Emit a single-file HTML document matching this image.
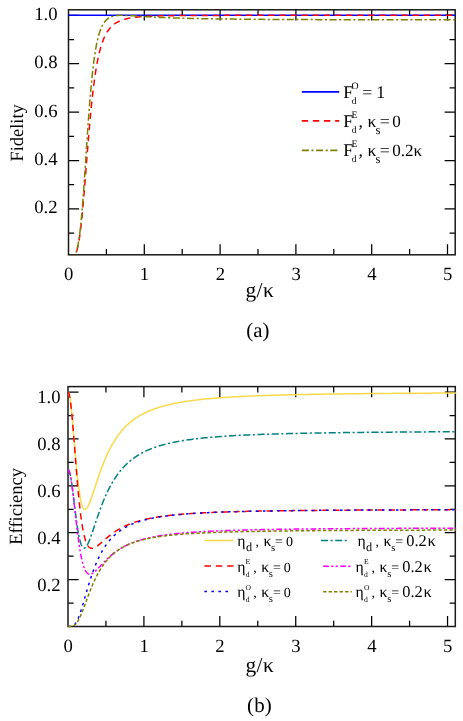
<!DOCTYPE html><html><head><meta charset="utf-8"><title>fig</title>
<style>html,body{margin:0;padding:0;background:#fff;overflow:hidden}svg{display:block}text{font-family:"Liberation Serif",serif;fill:#000;text-rendering:geometricPrecision}</style></head><body>
<svg width="463" height="721" viewBox="0 0 463 721">
<rect width="463" height="721" fill="#fff"/>
<defs>
<clipPath id="ct"><rect x="67.70" y="9.00" width="388.30" height="246.60"/></clipPath>
<clipPath id="cb"><rect x="67.20" y="385.80" width="388.90" height="241.50"/></clipPath>
</defs>
<path d="M106.40,254.80 v-5.80 M106.40,9.80 v5.80 M144.30,254.80 v-10.60 M144.30,9.80 v10.60 M182.20,254.80 v-5.80 M182.20,9.80 v5.80 M220.10,254.80 v-10.60 M220.10,9.80 v10.60 M258.00,254.80 v-5.80 M258.00,9.80 v5.80 M295.90,254.80 v-10.60 M295.90,9.80 v10.60 M333.80,254.80 v-5.80 M333.80,9.80 v5.80 M371.70,254.80 v-10.60 M371.70,9.80 v10.60 M409.60,254.80 v-5.80 M409.60,9.80 v5.80 M447.50,254.80 v-10.60 M447.50,9.80 v10.60 M68.50,233.10 h5.60 M455.20,233.10 h-5.60 M68.50,208.90 h10.60 M455.20,208.90 h-10.60 M68.50,184.70 h5.60 M455.20,184.70 h-5.60 M68.50,160.50 h10.60 M455.20,160.50 h-10.60 M68.50,136.30 h5.60 M455.20,136.30 h-5.60 M68.50,112.10 h10.60 M455.20,112.10 h-10.60 M68.50,87.90 h5.60 M455.20,87.90 h-5.60 M68.50,63.70 h10.60 M455.20,63.70 h-10.60 M68.50,39.50 h5.60 M455.20,39.50 h-5.60 M68.50,15.30 h10.60 M455.20,15.30 h-10.60" stroke="#000" stroke-width="1.25" fill="none"/>
<rect x="68.50" y="9.80" width="386.70" height="245.00" fill="none" stroke="#1a1a1a" stroke-width="1.50"/>
<g clip-path="url(#ct)" fill="none" stroke-width="1.50">
<path d="M68.50,15.30 H455.20" stroke="#0000ff" stroke-width="1.6"/>
<path d="M68.50,257.30 L68.80,257.30 L69.11,257.30 L69.41,257.30 L69.71,257.30 L70.02,257.29 L70.32,257.28 L70.62,257.27 L70.93,257.25 L71.23,257.22 L71.53,257.18 L71.84,257.12 L72.14,257.04 L72.44,256.95 L72.74,256.82 L73.05,256.67 L73.35,256.49 L73.65,256.27 L73.96,256.01 L74.26,255.70 L74.56,255.33 L74.87,254.91 L75.17,254.43 L75.47,253.88 L75.78,253.26 L76.08,252.55 L76.38,251.77 L76.69,250.89 L76.99,249.92 L77.29,248.84 L77.60,247.66 L77.90,246.37 L78.20,244.97 L78.51,243.45 L78.81,241.80 L79.11,240.03 L79.42,238.14 L79.72,236.11 L80.02,233.96 L80.32,231.67 L80.63,229.26 L80.93,226.71 L81.23,224.04 L81.54,221.25 L81.84,218.34 L82.14,215.31 L82.45,212.17 L82.75,208.92 L83.05,205.58 L83.36,202.15 L83.66,198.63 L83.96,195.04 L84.27,191.38 L84.57,187.67 L84.87,183.90 L85.18,180.09 L85.48,176.25 L85.78,172.40 L86.09,168.52 L86.39,164.65 L86.69,160.77 L87.00,156.91 L87.30,153.07 L87.60,149.26 L87.90,145.48 L88.21,141.74 L88.51,138.05 L88.81,134.41 L89.12,130.83 L89.42,127.31 L89.72,123.85 L90.03,120.47 L90.33,117.15 L90.63,113.91 L90.94,110.75 L91.24,107.67 L91.54,104.66 L91.85,101.73 L92.15,98.89 L92.45,96.12 L92.76,93.44 L93.06,90.83 L93.36,88.30 L93.67,85.86 L93.97,83.49 L94.27,81.19 L94.58,78.97 L94.88,76.83 L95.18,74.75 L95.48,72.75 L95.79,70.81 L96.09,68.95 L96.39,67.14 L96.70,65.40 L97.00,63.72 L97.30,62.11 L97.61,60.55 L97.91,59.04 L98.21,57.59 L98.52,56.19 L98.82,54.84 L99.12,53.54 L99.43,52.29 L99.73,51.09 L100.03,49.92 L100.34,48.80 L100.64,47.72 L100.94,46.68 L101.25,45.68 L101.55,44.71 L101.85,43.78 L102.16,42.89 L102.46,42.02 L102.76,41.19 L103.06,40.38 L103.37,39.61 L103.67,38.86 L103.97,38.14 L104.28,37.45 L104.58,36.78 L104.88,36.13 L105.19,35.51 L105.49,34.91 L105.79,34.33 L106.10,33.77 L106.40,33.23 L106.70,32.70 L107.01,32.20 L107.31,31.71 L107.61,31.24 L107.92,30.79 L108.22,30.35 L108.52,29.93 L108.83,29.52 L109.13,29.12 L109.43,28.74 L109.74,28.37 L110.04,28.01 L110.34,27.67 L110.64,27.33 L110.95,27.01 L111.25,26.70 L111.55,26.39 L111.86,26.10 L112.16,25.81 L112.46,25.54 L112.77,25.27 L113.07,25.02 L113.37,24.77 L113.68,24.52 L113.98,24.29 L114.28,24.06 L114.59,23.84 L114.89,23.63 L115.19,23.42 L115.50,23.22 L115.80,23.03 L116.10,22.84 L116.41,22.65 L116.71,22.48 L117.01,22.30 L117.32,22.14 L117.62,21.97 L117.92,21.82 L118.22,21.66 L118.53,21.51 L118.83,21.37 L119.13,21.23 L119.44,21.09 L119.74,20.96 L120.04,20.83 L120.35,20.70 L120.65,20.58 L120.95,20.46 L121.26,20.35 L121.56,20.24 L121.86,20.13 L122.17,20.02 L122.47,19.92 L122.77,19.82 L123.08,19.72 L123.38,19.63 L123.68,19.53 L123.99,19.44 L124.29,19.35 L124.59,19.27 L124.90,19.19 L125.20,19.10 L125.50,19.03 L125.80,18.95 L126.11,18.87 L126.41,18.80 L126.71,18.73 L127.02,18.66 L127.32,18.59 L127.62,18.53 L127.93,18.46 L128.23,18.40 L128.53,18.34 L128.84,18.28 L129.14,18.22 L129.44,18.16 L129.75,18.11 L130.05,18.05 L130.35,18.00 L130.66,17.95 L130.96,17.90 L131.26,17.85 L131.57,17.80 L131.87,17.75 L132.17,17.71 L132.48,17.66 L132.78,17.62 L133.08,17.57 L133.38,17.53 L133.69,17.49 L133.99,17.45 L134.29,17.41 L134.60,17.37 L134.90,17.34 L135.20,17.30 L135.51,17.27 L135.81,17.23 L136.11,17.20 L136.42,17.16 L136.72,17.13 L137.02,17.10 L137.33,17.07 L137.63,17.04 L137.93,17.01 L138.24,16.98 L138.54,16.95 L138.84,16.92 L139.15,16.89 L139.45,16.87 L139.75,16.84 L140.06,16.81 L140.36,16.79 L140.66,16.76 L140.96,16.74 L141.27,16.72 L141.57,16.69 L141.87,16.67 L142.18,16.65 L142.48,16.63 L142.78,16.60 L143.09,16.58 L143.39,16.56 L143.69,16.54 L144.00,16.52 L144.30,16.50 L144.60,16.49 L144.91,16.47 L145.21,16.45 L145.51,16.43 L145.82,16.41 L146.12,16.40 L146.42,16.38 L146.73,16.36 L147.03,16.35 L147.33,16.33 L147.64,16.31 L147.94,16.30 L148.24,16.28 L148.54,16.27 L148.85,16.25 L149.15,16.24 L149.45,16.23 L149.76,16.21 L150.06,16.20 L150.36,16.19 L150.67,16.17 L150.97,16.16 L151.27,16.15 L151.58,16.14 L151.88,16.12 L152.18,16.11 L152.49,16.10 L152.79,16.09 L153.09,16.08 L153.40,16.07 L153.70,16.06 L154.00,16.05 L154.31,16.03 L154.61,16.02 L154.91,16.01 L155.22,16.00 L155.52,15.99 L155.82,15.99 L156.12,15.98 L156.43,15.97 L156.73,15.96 L157.03,15.95 L157.34,15.94 L157.64,15.93 L157.94,15.92 L158.25,15.91 L158.55,15.91 L158.85,15.90 L159.16,15.89 L159.46,15.88 L159.76,15.87 L160.07,15.87 L160.37,15.86 L160.67,15.85 L160.98,15.84 L161.28,15.84 L161.58,15.83 L161.89,15.82 L162.19,15.82 L162.49,15.81 L162.80,15.80 L163.10,15.80 L163.40,15.79 L163.70,15.79 L164.01,15.78 L164.31,15.77 L164.61,15.77 L164.92,15.76 L165.22,15.76 L165.52,15.75 L165.83,15.74 L166.13,15.74 L166.43,15.73 L166.74,15.73 L167.04,15.72 L167.34,15.72 L167.65,15.71 L167.95,15.71 L168.25,15.70 L168.56,15.70 L168.86,15.69 L169.16,15.69 L169.47,15.68 L169.77,15.68 L170.07,15.67 L170.38,15.67 L170.68,15.67 L170.98,15.66 L171.28,15.66 L171.59,15.65 L171.89,15.65 L172.19,15.65 L172.50,15.64 L172.80,15.64 L173.10,15.63 L173.41,15.63 L173.71,15.63 L174.01,15.62 L174.32,15.62 L174.62,15.61 L174.92,15.61 L175.23,15.61 L175.53,15.60 L175.83,15.60 L176.14,15.60 L176.44,15.59 L176.74,15.59 L177.05,15.59 L177.35,15.58 L177.65,15.58 L177.96,15.58 L178.26,15.57 L178.56,15.57 L178.86,15.57 L179.17,15.57 L179.47,15.56 L179.77,15.56 L180.08,15.56 L180.38,15.55 L180.68,15.55 L180.99,15.55 L181.29,15.55 L181.59,15.54 L181.90,15.54 L182.20,15.54 L183.72,15.53 L185.23,15.51 L186.75,15.50 L188.26,15.49 L189.78,15.48 L191.30,15.48 L192.81,15.47 L194.33,15.46 L195.84,15.45 L197.36,15.44 L198.88,15.44 L200.39,15.43 L201.91,15.43 L203.42,15.42 L204.94,15.42 L206.46,15.41 L207.97,15.41 L209.49,15.40 L211.00,15.40 L212.52,15.39 L214.04,15.39 L215.55,15.39 L217.07,15.38 L218.58,15.38 L220.10,15.38 L221.62,15.37 L223.13,15.37 L224.65,15.37 L226.16,15.36 L227.68,15.36 L229.20,15.36 L230.71,15.36 L232.23,15.36 L233.74,15.35 L235.26,15.35 L236.78,15.35 L238.29,15.35 L239.81,15.35 L241.32,15.34 L242.84,15.34 L244.36,15.34 L245.87,15.34 L247.39,15.34 L248.90,15.34 L250.42,15.34 L251.94,15.34 L253.45,15.33 L254.97,15.33 L256.48,15.33 L258.00,15.33 L259.52,15.33 L261.03,15.33 L262.55,15.33 L264.06,15.33 L265.58,15.33 L267.10,15.33 L268.61,15.32 L270.13,15.32 L271.64,15.32 L273.16,15.32 L274.68,15.32 L276.19,15.32 L277.71,15.32 L279.22,15.32 L280.74,15.32 L282.26,15.32 L283.77,15.32 L285.29,15.32 L286.80,15.32 L288.32,15.32 L289.84,15.32 L291.35,15.32 L292.87,15.32 L294.38,15.32 L295.90,15.31 L297.42,15.31 L298.93,15.31 L300.45,15.31 L301.96,15.31 L303.48,15.31 L305.00,15.31 L306.51,15.31 L308.03,15.31 L309.54,15.31 L311.06,15.31 L312.58,15.31 L314.09,15.31 L315.61,15.31 L317.12,15.31 L318.64,15.31 L320.16,15.31 L321.67,15.31 L323.19,15.31 L324.70,15.31 L326.22,15.31 L327.74,15.31 L329.25,15.31 L330.77,15.31 L332.28,15.31 L333.80,15.31 L335.32,15.31 L336.83,15.31 L338.35,15.31 L339.86,15.31 L341.38,15.31 L342.90,15.31 L344.41,15.31 L345.93,15.31 L347.44,15.31 L348.96,15.31 L350.48,15.31 L351.99,15.31 L353.51,15.31 L355.02,15.31 L356.54,15.31 L358.06,15.31 L359.57,15.31 L361.09,15.31 L362.60,15.31 L364.12,15.31 L365.64,15.31 L367.15,15.31 L368.67,15.30 L370.18,15.30 L371.70,15.30 L373.22,15.30 L374.73,15.30 L376.25,15.30 L377.76,15.30 L379.28,15.30 L380.80,15.30 L382.31,15.30 L383.83,15.30 L385.34,15.30 L386.86,15.30 L388.38,15.30 L389.89,15.30 L391.41,15.30 L392.92,15.30 L394.44,15.30 L395.96,15.30 L397.47,15.30 L398.99,15.30 L400.50,15.30 L402.02,15.30 L403.54,15.30 L405.05,15.30 L406.57,15.30 L408.08,15.30 L409.60,15.30 L411.12,15.30 L412.63,15.30 L414.15,15.30 L415.66,15.30 L417.18,15.30 L418.70,15.30 L420.21,15.30 L421.73,15.30 L423.24,15.30 L424.76,15.30 L426.28,15.30 L427.79,15.30 L429.31,15.30 L430.82,15.30 L432.34,15.30 L433.86,15.30 L435.37,15.30 L436.89,15.30 L438.40,15.30 L439.92,15.30 L441.44,15.30 L442.95,15.30 L444.47,15.30 L445.98,15.30 L447.50,15.30 L449.02,15.30 L450.53,15.30 L452.05,15.30 L453.56,15.30 L455.08,15.30 L456.60,15.30 L458.11,15.30 L459.63,15.30 L461.14,15.30 L462.66,15.30" stroke="#ff0000" stroke-dasharray="6.3 4.8"/>
<path d="M68.50,257.30 L68.80,257.30 L69.11,257.30 L69.41,257.30 L69.71,257.30 L70.02,257.29 L70.32,257.28 L70.62,257.27 L70.93,257.25 L71.23,257.22 L71.53,257.17 L71.84,257.11 L72.14,257.04 L72.44,256.94 L72.74,256.81 L73.05,256.65 L73.35,256.46 L73.65,256.23 L73.96,255.95 L74.26,255.63 L74.56,255.24 L74.87,254.80 L75.17,254.28 L75.47,253.69 L75.78,253.02 L76.08,252.26 L76.38,251.41 L76.69,250.45 L76.99,249.39 L77.29,248.21 L77.60,246.90 L77.90,245.47 L78.20,243.91 L78.51,242.20 L78.81,240.35 L79.11,238.34 L79.42,236.19 L79.72,233.87 L80.02,231.40 L80.32,228.77 L80.63,225.97 L80.93,223.01 L81.23,219.90 L81.54,216.63 L81.84,213.20 L82.14,209.63 L82.45,205.93 L82.75,202.08 L83.05,198.12 L83.36,194.04 L83.66,189.85 L83.96,185.57 L84.27,181.21 L84.57,176.78 L84.87,172.29 L85.18,167.76 L85.48,163.20 L85.78,158.63 L86.09,154.04 L86.39,149.47 L86.69,144.91 L87.00,140.39 L87.30,135.91 L87.60,131.48 L87.90,127.11 L88.21,122.82 L88.51,118.60 L88.81,114.47 L89.12,110.43 L89.42,106.48 L89.72,102.64 L90.03,98.90 L90.33,95.28 L90.63,91.76 L90.94,88.35 L91.24,85.06 L91.54,81.88 L91.85,78.81 L92.15,75.86 L92.45,73.01 L92.76,70.28 L93.06,67.66 L93.36,65.14 L93.67,62.72 L93.97,60.41 L94.27,58.19 L94.58,56.07 L94.88,54.05 L95.18,52.11 L95.48,50.26 L95.79,48.50 L96.09,46.81 L96.39,45.21 L96.70,43.67 L97.00,42.21 L97.30,40.82 L97.61,39.50 L97.91,38.24 L98.21,37.04 L98.52,35.89 L98.82,34.81 L99.12,33.77 L99.43,32.79 L99.73,31.86 L100.03,30.97 L100.34,30.12 L100.64,29.32 L100.94,28.56 L101.25,27.83 L101.55,27.14 L101.85,26.49 L102.16,25.87 L102.46,25.28 L102.76,24.72 L103.06,24.19 L103.37,23.68 L103.67,23.20 L103.97,22.75 L104.28,22.32 L104.58,21.91 L104.88,21.52 L105.19,21.15 L105.49,20.80 L105.79,20.47 L106.10,20.16 L106.40,19.86 L106.70,19.58 L107.01,19.31 L107.31,19.06 L107.61,18.82 L107.92,18.59 L108.22,18.38 L108.52,18.18 L108.83,17.98 L109.13,17.80 L109.43,17.63 L109.74,17.47 L110.04,17.32 L110.34,17.17 L110.64,17.04 L110.95,16.91 L111.25,16.79 L111.55,16.67 L111.86,16.57 L112.16,16.47 L112.46,16.37 L112.77,16.28 L113.07,16.20 L113.37,16.12 L113.68,16.05 L113.98,15.98 L114.28,15.91 L114.59,15.86 L114.89,15.80 L115.19,15.75 L115.50,15.70 L115.80,15.66 L116.10,15.61 L116.41,15.58 L116.71,15.54 L117.01,15.51 L117.32,15.48 L117.62,15.45 L117.92,15.43 L118.22,15.41 L118.53,15.39 L118.83,15.37 L119.13,15.36 L119.44,15.34 L119.74,15.33 L120.04,15.32 L120.35,15.32 L120.65,15.31 L120.95,15.31 L121.26,15.30 L121.56,15.30 L121.86,15.30 L122.17,15.30 L122.47,15.30 L122.77,15.31 L123.08,15.31 L123.38,15.31 L123.68,15.32 L123.99,15.33 L124.29,15.34 L124.59,15.34 L124.90,15.35 L125.20,15.36 L125.50,15.38 L125.80,15.39 L126.11,15.40 L126.41,15.41 L126.71,15.43 L127.02,15.44 L127.32,15.45 L127.62,15.47 L127.93,15.48 L128.23,15.50 L128.53,15.52 L128.84,15.53 L129.14,15.55 L129.44,15.57 L129.75,15.58 L130.05,15.60 L130.35,15.62 L130.66,15.64 L130.96,15.65 L131.26,15.67 L131.57,15.69 L131.87,15.71 L132.17,15.73 L132.48,15.75 L132.78,15.77 L133.08,15.79 L133.38,15.81 L133.69,15.83 L133.99,15.85 L134.29,15.87 L134.60,15.89 L134.90,15.91 L135.20,15.93 L135.51,15.95 L135.81,15.97 L136.11,15.99 L136.42,16.01 L136.72,16.03 L137.02,16.05 L137.33,16.07 L137.63,16.09 L137.93,16.11 L138.24,16.13 L138.54,16.15 L138.84,16.17 L139.15,16.19 L139.45,16.21 L139.75,16.23 L140.06,16.25 L140.36,16.27 L140.66,16.29 L140.96,16.31 L141.27,16.33 L141.57,16.35 L141.87,16.37 L142.18,16.39 L142.48,16.41 L142.78,16.43 L143.09,16.45 L143.39,16.47 L143.69,16.49 L144.00,16.51 L144.30,16.53 L144.60,16.55 L144.91,16.57 L145.21,16.59 L145.51,16.60 L145.82,16.62 L146.12,16.64 L146.42,16.66 L146.73,16.68 L147.03,16.70 L147.33,16.72 L147.64,16.73 L147.94,16.75 L148.24,16.77 L148.54,16.79 L148.85,16.81 L149.15,16.82 L149.45,16.84 L149.76,16.86 L150.06,16.88 L150.36,16.89 L150.67,16.91 L150.97,16.93 L151.27,16.94 L151.58,16.96 L151.88,16.98 L152.18,17.00 L152.49,17.01 L152.79,17.03 L153.09,17.04 L153.40,17.06 L153.70,17.08 L154.00,17.09 L154.31,17.11 L154.61,17.13 L154.91,17.14 L155.22,17.16 L155.52,17.17 L155.82,17.19 L156.12,17.20 L156.43,17.22 L156.73,17.23 L157.03,17.25 L157.34,17.26 L157.64,17.28 L157.94,17.29 L158.25,17.31 L158.55,17.32 L158.85,17.34 L159.16,17.35 L159.46,17.37 L159.76,17.38 L160.07,17.40 L160.37,17.41 L160.67,17.42 L160.98,17.44 L161.28,17.45 L161.58,17.46 L161.89,17.48 L162.19,17.49 L162.49,17.51 L162.80,17.52 L163.10,17.53 L163.40,17.54 L163.70,17.56 L164.01,17.57 L164.31,17.58 L164.61,17.60 L164.92,17.61 L165.22,17.62 L165.52,17.63 L165.83,17.65 L166.13,17.66 L166.43,17.67 L166.74,17.68 L167.04,17.70 L167.34,17.71 L167.65,17.72 L167.95,17.73 L168.25,17.74 L168.56,17.76 L168.86,17.77 L169.16,17.78 L169.47,17.79 L169.77,17.80 L170.07,17.81 L170.38,17.82 L170.68,17.84 L170.98,17.85 L171.28,17.86 L171.59,17.87 L171.89,17.88 L172.19,17.89 L172.50,17.90 L172.80,17.91 L173.10,17.92 L173.41,17.93 L173.71,17.94 L174.01,17.95 L174.32,17.96 L174.62,17.97 L174.92,17.98 L175.23,17.99 L175.53,18.00 L175.83,18.01 L176.14,18.02 L176.44,18.03 L176.74,18.04 L177.05,18.05 L177.35,18.06 L177.65,18.07 L177.96,18.08 L178.26,18.09 L178.56,18.10 L178.86,18.11 L179.17,18.12 L179.47,18.13 L179.77,18.14 L180.08,18.15 L180.38,18.16 L180.68,18.17 L180.99,18.17 L181.29,18.18 L181.59,18.19 L181.90,18.20 L182.20,18.21 L183.72,18.25 L185.23,18.29 L186.75,18.33 L188.26,18.37 L189.78,18.41 L191.30,18.44 L192.81,18.48 L194.33,18.51 L195.84,18.55 L197.36,18.58 L198.88,18.61 L200.39,18.64 L201.91,18.67 L203.42,18.70 L204.94,18.72 L206.46,18.75 L207.97,18.78 L209.49,18.80 L211.00,18.83 L212.52,18.85 L214.04,18.87 L215.55,18.90 L217.07,18.92 L218.58,18.94 L220.10,18.96 L221.62,18.98 L223.13,19.00 L224.65,19.02 L226.16,19.04 L227.68,19.06 L229.20,19.07 L230.71,19.09 L232.23,19.11 L233.74,19.12 L235.26,19.14 L236.78,19.15 L238.29,19.17 L239.81,19.18 L241.32,19.20 L242.84,19.21 L244.36,19.23 L245.87,19.24 L247.39,19.25 L248.90,19.27 L250.42,19.28 L251.94,19.29 L253.45,19.30 L254.97,19.31 L256.48,19.32 L258.00,19.34 L259.52,19.35 L261.03,19.36 L262.55,19.37 L264.06,19.38 L265.58,19.39 L267.10,19.40 L268.61,19.41 L270.13,19.42 L271.64,19.42 L273.16,19.43 L274.68,19.44 L276.19,19.45 L277.71,19.46 L279.22,19.47 L280.74,19.47 L282.26,19.48 L283.77,19.49 L285.29,19.50 L286.80,19.51 L288.32,19.51 L289.84,19.52 L291.35,19.53 L292.87,19.53 L294.38,19.54 L295.90,19.55 L297.42,19.55 L298.93,19.56 L300.45,19.57 L301.96,19.57 L303.48,19.58 L305.00,19.58 L306.51,19.59 L308.03,19.59 L309.54,19.60 L311.06,19.61 L312.58,19.61 L314.09,19.62 L315.61,19.62 L317.12,19.63 L318.64,19.63 L320.16,19.64 L321.67,19.64 L323.19,19.65 L324.70,19.65 L326.22,19.65 L327.74,19.66 L329.25,19.66 L330.77,19.67 L332.28,19.67 L333.80,19.68 L335.32,19.68 L336.83,19.68 L338.35,19.69 L339.86,19.69 L341.38,19.70 L342.90,19.70 L344.41,19.70 L345.93,19.71 L347.44,19.71 L348.96,19.71 L350.48,19.72 L351.99,19.72 L353.51,19.72 L355.02,19.73 L356.54,19.73 L358.06,19.73 L359.57,19.74 L361.09,19.74 L362.60,19.74 L364.12,19.75 L365.64,19.75 L367.15,19.75 L368.67,19.76 L370.18,19.76 L371.70,19.76 L373.22,19.76 L374.73,19.77 L376.25,19.77 L377.76,19.77 L379.28,19.77 L380.80,19.78 L382.31,19.78 L383.83,19.78 L385.34,19.78 L386.86,19.79 L388.38,19.79 L389.89,19.79 L391.41,19.79 L392.92,19.80 L394.44,19.80 L395.96,19.80 L397.47,19.80 L398.99,19.81 L400.50,19.81 L402.02,19.81 L403.54,19.81 L405.05,19.81 L406.57,19.82 L408.08,19.82 L409.60,19.82 L411.12,19.82 L412.63,19.82 L414.15,19.83 L415.66,19.83 L417.18,19.83 L418.70,19.83 L420.21,19.83 L421.73,19.84 L423.24,19.84 L424.76,19.84 L426.28,19.84 L427.79,19.84 L429.31,19.84 L430.82,19.85 L432.34,19.85 L433.86,19.85 L435.37,19.85 L436.89,19.85 L438.40,19.85 L439.92,19.86 L441.44,19.86 L442.95,19.86 L444.47,19.86 L445.98,19.86 L447.50,19.86 L449.02,19.86 L450.53,19.87 L452.05,19.87 L453.56,19.87 L455.08,19.87 L456.60,19.87 L458.11,19.87 L459.63,19.87 L461.14,19.87 L462.66,19.88" stroke="#808000" stroke-dasharray="7.1 2.5 2.1 2.55"/>
</g>
<path d="M105.95,626.50 v-5.80 M105.95,386.60 v5.80 M143.91,626.50 v-10.60 M143.91,386.60 v10.60 M181.87,626.50 v-5.80 M181.87,386.60 v5.80 M219.82,626.50 v-10.60 M219.82,386.60 v10.60 M257.77,626.50 v-5.80 M257.77,386.60 v5.80 M295.73,626.50 v-10.60 M295.73,386.60 v10.60 M333.69,626.50 v-5.80 M333.69,386.60 v5.80 M371.64,626.50 v-10.60 M371.64,386.60 v10.60 M409.59,626.50 v-5.80 M409.59,386.60 v5.80 M447.55,626.50 v-10.60 M447.55,386.60 v10.60 M68.00,603.06 h5.60 M455.30,603.06 h-5.60 M68.00,579.62 h10.60 M455.30,579.62 h-10.60 M68.00,556.18 h5.60 M455.30,556.18 h-5.60 M68.00,532.74 h10.60 M455.30,532.74 h-10.60 M68.00,509.30 h5.60 M455.30,509.30 h-5.60 M68.00,485.86 h10.60 M455.30,485.86 h-10.60 M68.00,462.42 h5.60 M455.30,462.42 h-5.60 M68.00,438.98 h10.60 M455.30,438.98 h-10.60 M68.00,415.54 h5.60 M455.30,415.54 h-5.60 M68.00,392.10 h10.60 M455.30,392.10 h-10.60" stroke="#000" stroke-width="1.25" fill="none"/>
<rect x="68.00" y="386.60" width="387.30" height="239.90" fill="none" stroke="#1a1a1a" stroke-width="1.50"/>
<g clip-path="url(#cb)" fill="none" stroke-width="1.50">
<path d="M68.00,392.10 L68.30,392.25 L68.61,392.70 L68.91,393.44 L69.21,394.48 L69.52,395.79 L69.82,397.38 L70.13,399.23 L70.43,401.32 L70.73,403.65 L71.04,406.19 L71.34,408.92 L71.64,411.84 L71.95,414.92 L72.25,418.13 L72.55,421.47 L72.86,424.91 L73.16,428.43 L73.47,432.00 L73.77,435.62 L74.07,439.26 L74.38,442.91 L74.68,446.54 L74.98,450.14 L75.29,453.71 L75.59,457.21 L75.89,460.65 L76.20,464.00 L76.50,467.27 L76.81,470.43 L77.11,473.49 L77.41,476.43 L77.72,479.25 L78.02,481.94 L78.32,484.51 L78.63,486.94 L78.93,489.24 L79.23,491.41 L79.54,493.44 L79.84,495.33 L80.15,497.09 L80.45,498.72 L80.75,500.22 L81.06,501.59 L81.36,502.83 L81.66,503.95 L81.97,504.96 L82.27,505.84 L82.57,506.62 L82.88,507.29 L83.18,507.85 L83.49,508.32 L83.79,508.69 L84.09,508.97 L84.40,509.16 L84.70,509.27 L85.00,509.30 L85.31,509.26 L85.61,509.14 L85.91,508.96 L86.22,508.72 L86.52,508.41 L86.83,508.05 L87.13,507.64 L87.43,507.18 L87.74,506.67 L88.04,506.13 L88.34,505.54 L88.65,504.91 L88.95,504.26 L89.25,503.57 L89.56,502.85 L89.86,502.10 L90.17,501.33 L90.47,500.54 L90.77,499.73 L91.08,498.90 L91.38,498.06 L91.68,497.20 L91.99,496.33 L92.29,495.44 L92.59,494.55 L92.90,493.65 L93.20,492.74 L93.51,491.83 L93.81,490.91 L94.11,489.99 L94.42,489.06 L94.72,488.13 L95.02,487.21 L95.33,486.28 L95.63,485.35 L95.93,484.43 L96.24,483.50 L96.54,482.58 L96.85,481.66 L97.15,480.75 L97.45,479.84 L97.76,478.94 L98.06,478.04 L98.36,477.14 L98.67,476.26 L98.97,475.37 L99.27,474.50 L99.58,473.63 L99.88,472.77 L100.19,471.91 L100.49,471.07 L100.79,470.23 L101.10,469.40 L101.40,468.57 L101.70,467.76 L102.01,466.95 L102.31,466.15 L102.61,465.36 L102.92,464.58 L103.22,463.80 L103.53,463.04 L103.83,462.28 L104.13,461.53 L104.44,460.79 L104.74,460.06 L105.04,459.33 L105.35,458.62 L105.65,457.91 L105.95,457.21 L106.26,456.52 L106.56,455.84 L106.87,455.16 L107.17,454.50 L107.47,453.84 L107.78,453.19 L108.08,452.55 L108.38,451.92 L108.69,451.29 L108.99,450.67 L109.30,450.06 L109.60,449.46 L109.90,448.87 L110.21,448.28 L110.51,447.70 L110.81,447.13 L111.12,446.56 L111.42,446.01 L111.72,445.46 L112.03,444.91 L112.33,444.38 L112.64,443.85 L112.94,443.32 L113.24,442.81 L113.55,442.30 L113.85,441.80 L114.15,441.30 L114.46,440.81 L114.76,440.33 L115.06,439.85 L115.37,439.38 L115.67,438.91 L115.98,438.45 L116.28,438.00 L116.58,437.55 L116.89,437.11 L117.19,436.67 L117.49,436.24 L117.80,435.82 L118.10,435.40 L118.40,434.99 L118.71,434.58 L119.01,434.17 L119.32,433.78 L119.62,433.38 L119.92,432.99 L120.23,432.61 L120.53,432.23 L120.83,431.86 L121.14,431.49 L121.44,431.12 L121.74,430.76 L122.05,430.41 L122.35,430.06 L122.66,429.71 L122.96,429.37 L123.26,429.03 L123.57,428.70 L123.87,428.37 L124.17,428.04 L124.48,427.72 L124.78,427.40 L125.08,427.09 L125.39,426.78 L125.69,426.47 L126.00,426.17 L126.30,425.87 L126.60,425.58 L126.91,425.29 L127.21,425.00 L127.51,424.71 L127.82,424.43 L128.12,424.15 L128.42,423.88 L128.73,423.61 L129.03,423.34 L129.34,423.08 L129.64,422.82 L129.94,422.56 L130.25,422.30 L130.55,422.05 L130.85,421.80 L131.16,421.55 L131.46,421.31 L131.76,421.07 L132.07,420.83 L132.37,420.60 L132.68,420.36 L132.98,420.13 L133.28,419.91 L133.59,419.68 L133.89,419.46 L134.19,419.24 L134.50,419.02 L134.80,418.81 L135.10,418.60 L135.41,418.39 L135.71,418.18 L136.02,417.97 L136.32,417.77 L136.62,417.57 L136.93,417.37 L137.23,417.18 L137.53,416.98 L137.84,416.79 L138.14,416.60 L138.44,416.41 L138.75,416.23 L139.05,416.04 L139.36,415.86 L139.66,415.68 L139.96,415.51 L140.27,415.33 L140.57,415.16 L140.87,414.98 L141.18,414.81 L141.48,414.65 L141.78,414.48 L142.09,414.31 L142.39,414.15 L142.70,413.99 L143.00,413.83 L143.30,413.67 L143.61,413.52 L143.91,413.36 L144.21,413.21 L144.52,413.06 L144.82,412.91 L145.12,412.76 L145.43,412.61 L145.73,412.47 L146.04,412.32 L146.34,412.18 L146.64,412.04 L146.95,411.90 L147.25,411.76 L147.55,411.62 L147.86,411.49 L148.16,411.35 L148.46,411.22 L148.77,411.09 L149.07,410.96 L149.38,410.83 L149.68,410.70 L149.98,410.58 L150.29,410.45 L150.59,410.33 L150.89,410.21 L151.20,410.09 L151.50,409.96 L151.80,409.85 L152.11,409.73 L152.41,409.61 L152.72,409.50 L153.02,409.38 L153.32,409.27 L153.63,409.16 L153.93,409.04 L154.23,408.93 L154.54,408.82 L154.84,408.72 L155.14,408.61 L155.45,408.50 L155.75,408.40 L156.06,408.29 L156.36,408.19 L156.66,408.09 L156.97,407.99 L157.27,407.89 L157.57,407.79 L157.88,407.69 L158.18,407.59 L158.48,407.49 L158.79,407.40 L159.09,407.30 L159.40,407.21 L159.70,407.12 L160.00,407.02 L160.31,406.93 L160.61,406.84 L160.91,406.75 L161.22,406.66 L161.52,406.57 L161.82,406.49 L162.13,406.40 L162.43,406.31 L162.74,406.23 L163.04,406.14 L163.34,406.06 L163.65,405.98 L163.95,405.89 L164.25,405.81 L164.56,405.73 L164.86,405.65 L165.16,405.57 L165.47,405.49 L165.77,405.41 L166.08,405.34 L166.38,405.26 L166.68,405.18 L166.99,405.11 L167.29,405.03 L167.59,404.96 L167.90,404.89 L168.20,404.81 L168.50,404.74 L168.81,404.67 L169.11,404.60 L169.42,404.53 L169.72,404.46 L170.02,404.39 L170.33,404.32 L170.63,404.25 L170.93,404.18 L171.24,404.11 L171.54,404.05 L171.84,403.98 L172.15,403.92 L172.45,403.85 L172.76,403.79 L173.06,403.72 L173.36,403.66 L173.67,403.60 L173.97,403.53 L174.27,403.47 L174.58,403.41 L174.88,403.35 L175.18,403.29 L175.49,403.23 L175.79,403.17 L176.10,403.11 L176.40,403.05 L176.70,402.99 L177.01,402.94 L177.31,402.88 L177.61,402.82 L177.92,402.76 L178.22,402.71 L178.52,402.65 L178.83,402.60 L179.13,402.54 L179.44,402.49 L179.74,402.44 L180.04,402.38 L180.35,402.33 L180.65,402.28 L180.95,402.22 L181.26,402.17 L181.56,402.12 L181.87,402.07 L183.38,401.82 L184.90,401.58 L186.42,401.35 L187.94,401.12 L189.46,400.91 L190.97,400.70 L192.49,400.50 L194.01,400.31 L195.53,400.12 L197.05,399.94 L198.57,399.76 L200.08,399.59 L201.60,399.43 L203.12,399.27 L204.64,399.12 L206.16,398.97 L207.67,398.82 L209.19,398.68 L210.71,398.55 L212.23,398.42 L213.75,398.29 L215.27,398.17 L216.78,398.05 L218.30,397.93 L219.82,397.82 L221.34,397.71 L222.86,397.60 L224.37,397.50 L225.89,397.39 L227.41,397.30 L228.93,397.20 L230.45,397.11 L231.97,397.02 L233.48,396.93 L235.00,396.84 L236.52,396.76 L238.04,396.68 L239.56,396.60 L241.07,396.52 L242.59,396.45 L244.11,396.38 L245.63,396.30 L247.15,396.23 L248.67,396.17 L250.18,396.10 L251.70,396.03 L253.22,395.97 L254.74,395.91 L256.26,395.85 L257.77,395.79 L259.29,395.73 L260.81,395.68 L262.33,395.62 L263.85,395.57 L265.37,395.52 L266.88,395.47 L268.40,395.42 L269.92,395.37 L271.44,395.32 L272.96,395.27 L274.48,395.23 L275.99,395.18 L277.51,395.14 L279.03,395.09 L280.55,395.05 L282.07,395.01 L283.58,394.97 L285.10,394.93 L286.62,394.89 L288.14,394.85 L289.66,394.82 L291.18,394.78 L292.69,394.75 L294.21,394.71 L295.73,394.68 L297.25,394.64 L298.77,394.61 L300.28,394.58 L301.80,394.55 L303.32,394.51 L304.84,394.48 L306.36,394.45 L307.88,394.42 L309.39,394.40 L310.91,394.37 L312.43,394.34 L313.95,394.31 L315.47,394.28 L316.98,394.26 L318.50,394.23 L320.02,394.21 L321.54,394.18 L323.06,394.16 L324.58,394.13 L326.09,394.11 L327.61,394.09 L329.13,394.06 L330.65,394.04 L332.17,394.02 L333.69,394.00 L335.20,393.98 L336.72,393.96 L338.24,393.94 L339.76,393.91 L341.28,393.89 L342.79,393.88 L344.31,393.86 L345.83,393.84 L347.35,393.82 L348.87,393.80 L350.39,393.78 L351.90,393.76 L353.42,393.75 L354.94,393.73 L356.46,393.71 L357.98,393.70 L359.49,393.68 L361.01,393.66 L362.53,393.65 L364.05,393.63 L365.57,393.62 L367.09,393.60 L368.60,393.59 L370.12,393.57 L371.64,393.56 L373.16,393.54 L374.68,393.53 L376.19,393.51 L377.71,393.50 L379.23,393.49 L380.75,393.47 L382.27,393.46 L383.79,393.45 L385.30,393.43 L386.82,393.42 L388.34,393.41 L389.86,393.40 L391.38,393.38 L392.89,393.37 L394.41,393.36 L395.93,393.35 L397.45,393.34 L398.97,393.33 L400.49,393.32 L402.00,393.30 L403.52,393.29 L405.04,393.28 L406.56,393.27 L408.08,393.26 L409.59,393.25 L411.11,393.24 L412.63,393.23 L414.15,393.22 L415.67,393.21 L417.19,393.20 L418.70,393.19 L420.22,393.18 L421.74,393.17 L423.26,393.17 L424.78,393.16 L426.30,393.15 L427.81,393.14 L429.33,393.13 L430.85,393.12 L432.37,393.11 L433.89,393.10 L435.40,393.10 L436.92,393.09 L438.44,393.08 L439.96,393.07 L441.48,393.06 L443.00,393.06 L444.51,393.05 L446.03,393.04 L447.55,393.03 L449.07,393.03 L450.59,393.02 L452.10,393.01 L453.62,393.00 L455.14,393.00 L456.66,392.99 L458.18,392.98 L459.70,392.98 L461.21,392.97 L462.73,392.96" stroke="#f9d94a" stroke-width="1.5"/>
<path d="M68.00,469.59 L68.30,469.69 L68.61,469.99 L68.91,470.50 L69.21,471.19 L69.52,472.09 L69.82,473.16 L70.13,474.41 L70.43,475.83 L70.73,477.41 L71.04,479.14 L71.34,481.00 L71.64,482.98 L71.95,485.08 L72.25,487.27 L72.55,489.55 L72.86,491.89 L73.16,494.30 L73.47,496.75 L73.77,499.23 L74.07,501.72 L74.38,504.23 L74.68,506.72 L74.98,509.20 L75.29,511.65 L75.59,514.06 L75.89,516.43 L76.20,518.74 L76.50,520.98 L76.81,523.16 L77.11,525.26 L77.41,527.28 L77.72,529.21 L78.02,531.05 L78.32,532.80 L78.63,534.46 L78.93,536.01 L79.23,537.47 L79.54,538.83 L79.84,540.09 L80.15,541.25 L80.45,542.32 L80.75,543.28 L81.06,544.15 L81.36,544.93 L81.66,545.61 L81.97,546.20 L82.27,546.70 L82.57,547.12 L82.88,547.46 L83.18,547.72 L83.49,547.90 L83.79,548.01 L84.09,548.04 L84.40,548.01 L84.70,547.92 L85.00,547.76 L85.31,547.54 L85.61,547.27 L85.91,546.95 L86.22,546.58 L86.52,546.16 L86.83,545.69 L87.13,545.19 L87.43,544.64 L87.74,544.06 L88.04,543.45 L88.34,542.80 L88.65,542.13 L88.95,541.42 L89.25,540.70 L89.56,539.95 L89.86,539.18 L90.17,538.39 L90.47,537.58 L90.77,536.76 L91.08,535.92 L91.38,535.07 L91.68,534.21 L91.99,533.34 L92.29,532.46 L92.59,531.57 L92.90,530.68 L93.20,529.78 L93.51,528.88 L93.81,527.97 L94.11,527.06 L94.42,526.16 L94.72,525.25 L95.02,524.34 L95.33,523.43 L95.63,522.52 L95.93,521.62 L96.24,520.71 L96.54,519.82 L96.85,518.92 L97.15,518.03 L97.45,517.14 L97.76,516.26 L98.06,515.38 L98.36,514.51 L98.67,513.65 L98.97,512.79 L99.27,511.94 L99.58,511.09 L99.88,510.25 L100.19,509.42 L100.49,508.60 L100.79,507.78 L101.10,506.97 L101.40,506.17 L101.70,505.37 L102.01,504.59 L102.31,503.81 L102.61,503.04 L102.92,502.28 L103.22,501.52 L103.53,500.78 L103.83,500.04 L104.13,499.31 L104.44,498.59 L104.74,497.87 L105.04,497.17 L105.35,496.47 L105.65,495.78 L105.95,495.10 L106.26,494.42 L106.56,493.76 L106.87,493.10 L107.17,492.45 L107.47,491.81 L107.78,491.18 L108.08,490.55 L108.38,489.93 L108.69,489.32 L108.99,488.72 L109.30,488.12 L109.60,487.53 L109.90,486.95 L110.21,486.38 L110.51,485.81 L110.81,485.25 L111.12,484.70 L111.42,484.15 L111.72,483.61 L112.03,483.08 L112.33,482.56 L112.64,482.04 L112.94,481.53 L113.24,481.02 L113.55,480.52 L113.85,480.03 L114.15,479.54 L114.46,479.06 L114.76,478.59 L115.06,478.12 L115.37,477.66 L115.67,477.20 L115.98,476.75 L116.28,476.31 L116.58,475.87 L116.89,475.43 L117.19,475.00 L117.49,474.58 L117.80,474.16 L118.10,473.75 L118.40,473.35 L118.71,472.94 L119.01,472.55 L119.32,472.16 L119.62,471.77 L119.92,471.39 L120.23,471.01 L120.53,470.64 L120.83,470.27 L121.14,469.91 L121.44,469.55 L121.74,469.19 L122.05,468.84 L122.35,468.50 L122.66,468.16 L122.96,467.82 L123.26,467.49 L123.57,467.16 L123.87,466.84 L124.17,466.51 L124.48,466.20 L124.78,465.88 L125.08,465.58 L125.39,465.27 L125.69,464.97 L126.00,464.67 L126.30,464.38 L126.60,464.09 L126.91,463.80 L127.21,463.51 L127.51,463.23 L127.82,462.96 L128.12,462.68 L128.42,462.41 L128.73,462.14 L129.03,461.88 L129.34,461.62 L129.64,461.36 L129.94,461.11 L130.25,460.85 L130.55,460.60 L130.85,460.36 L131.16,460.11 L131.46,459.87 L131.76,459.64 L132.07,459.40 L132.37,459.17 L132.68,458.94 L132.98,458.71 L133.28,458.49 L133.59,458.26 L133.89,458.05 L134.19,457.83 L134.50,457.61 L134.80,457.40 L135.10,457.19 L135.41,456.98 L135.71,456.78 L136.02,456.58 L136.32,456.38 L136.62,456.18 L136.93,455.98 L137.23,455.79 L137.53,455.60 L137.84,455.41 L138.14,455.22 L138.44,455.03 L138.75,454.85 L139.05,454.67 L139.36,454.49 L139.66,454.31 L139.96,454.13 L140.27,453.96 L140.57,453.79 L140.87,453.62 L141.18,453.45 L141.48,453.28 L141.78,453.12 L142.09,452.95 L142.39,452.79 L142.70,452.63 L143.00,452.47 L143.30,452.32 L143.61,452.16 L143.91,452.01 L144.21,451.86 L144.52,451.71 L144.82,451.56 L145.12,451.41 L145.43,451.27 L145.73,451.12 L146.04,450.98 L146.34,450.84 L146.64,450.70 L146.95,450.56 L147.25,450.42 L147.55,450.29 L147.86,450.15 L148.16,450.02 L148.46,449.89 L148.77,449.76 L149.07,449.63 L149.38,449.50 L149.68,449.37 L149.98,449.25 L150.29,449.13 L150.59,449.00 L150.89,448.88 L151.20,448.76 L151.50,448.64 L151.80,448.52 L152.11,448.41 L152.41,448.29 L152.72,448.18 L153.02,448.06 L153.32,447.95 L153.63,447.84 L153.93,447.73 L154.23,447.62 L154.54,447.51 L154.84,447.40 L155.14,447.30 L155.45,447.19 L155.75,447.09 L156.06,446.98 L156.36,446.88 L156.66,446.78 L156.97,446.68 L157.27,446.58 L157.57,446.48 L157.88,446.38 L158.18,446.28 L158.48,446.19 L158.79,446.09 L159.09,446.00 L159.40,445.90 L159.70,445.81 L160.00,445.72 L160.31,445.63 L160.61,445.54 L160.91,445.45 L161.22,445.36 L161.52,445.27 L161.82,445.19 L162.13,445.10 L162.43,445.01 L162.74,444.93 L163.04,444.85 L163.34,444.76 L163.65,444.68 L163.95,444.60 L164.25,444.52 L164.56,444.44 L164.86,444.36 L165.16,444.28 L165.47,444.20 L165.77,444.12 L166.08,444.04 L166.38,443.97 L166.68,443.89 L166.99,443.82 L167.29,443.74 L167.59,443.67 L167.90,443.59 L168.20,443.52 L168.50,443.45 L168.81,443.38 L169.11,443.31 L169.42,443.24 L169.72,443.17 L170.02,443.10 L170.33,443.03 L170.63,442.96 L170.93,442.89 L171.24,442.83 L171.54,442.76 L171.84,442.70 L172.15,442.63 L172.45,442.57 L172.76,442.50 L173.06,442.44 L173.36,442.37 L173.67,442.31 L173.97,442.25 L174.27,442.19 L174.58,442.13 L174.88,442.07 L175.18,442.01 L175.49,441.95 L175.79,441.89 L176.10,441.83 L176.40,441.77 L176.70,441.71 L177.01,441.65 L177.31,441.60 L177.61,441.54 L177.92,441.48 L178.22,441.43 L178.52,441.37 L178.83,441.32 L179.13,441.26 L179.44,441.21 L179.74,441.16 L180.04,441.10 L180.35,441.05 L180.65,441.00 L180.95,440.95 L181.26,440.89 L181.56,440.84 L181.87,440.79 L183.38,440.54 L184.90,440.30 L186.42,440.07 L187.94,439.85 L189.46,439.64 L190.97,439.43 L192.49,439.23 L194.01,439.04 L195.53,438.85 L197.05,438.67 L198.57,438.49 L200.08,438.32 L201.60,438.16 L203.12,438.00 L204.64,437.85 L206.16,437.70 L207.67,437.56 L209.19,437.42 L210.71,437.28 L212.23,437.15 L213.75,437.03 L215.27,436.90 L216.78,436.78 L218.30,436.67 L219.82,436.55 L221.34,436.44 L222.86,436.34 L224.37,436.23 L225.89,436.13 L227.41,436.03 L228.93,435.94 L230.45,435.85 L231.97,435.76 L233.48,435.67 L235.00,435.58 L236.52,435.50 L238.04,435.42 L239.56,435.34 L241.07,435.26 L242.59,435.19 L244.11,435.12 L245.63,435.04 L247.15,434.97 L248.67,434.91 L250.18,434.84 L251.70,434.78 L253.22,434.71 L254.74,434.65 L256.26,434.59 L257.77,434.53 L259.29,434.47 L260.81,434.42 L262.33,434.36 L263.85,434.31 L265.37,434.26 L266.88,434.21 L268.40,434.16 L269.92,434.11 L271.44,434.06 L272.96,434.01 L274.48,433.97 L275.99,433.92 L277.51,433.88 L279.03,433.84 L280.55,433.79 L282.07,433.75 L283.58,433.71 L285.10,433.67 L286.62,433.63 L288.14,433.60 L289.66,433.56 L291.18,433.52 L292.69,433.49 L294.21,433.45 L295.73,433.42 L297.25,433.38 L298.77,433.35 L300.28,433.32 L301.80,433.29 L303.32,433.26 L304.84,433.23 L306.36,433.20 L307.88,433.17 L309.39,433.14 L310.91,433.11 L312.43,433.08 L313.95,433.05 L315.47,433.03 L316.98,433.00 L318.50,432.98 L320.02,432.95 L321.54,432.93 L323.06,432.90 L324.58,432.88 L326.09,432.85 L327.61,432.83 L329.13,432.81 L330.65,432.78 L332.17,432.76 L333.69,432.74 L335.20,432.72 L336.72,432.70 L338.24,432.68 L339.76,432.66 L341.28,432.64 L342.79,432.62 L344.31,432.60 L345.83,432.58 L347.35,432.56 L348.87,432.54 L350.39,432.52 L351.90,432.51 L353.42,432.49 L354.94,432.47 L356.46,432.46 L357.98,432.44 L359.49,432.42 L361.01,432.41 L362.53,432.39 L364.05,432.37 L365.57,432.36 L367.09,432.34 L368.60,432.33 L370.12,432.31 L371.64,432.30 L373.16,432.28 L374.68,432.27 L376.19,432.26 L377.71,432.24 L379.23,432.23 L380.75,432.22 L382.27,432.20 L383.79,432.19 L385.30,432.18 L386.82,432.16 L388.34,432.15 L389.86,432.14 L391.38,432.13 L392.89,432.12 L394.41,432.10 L395.93,432.09 L397.45,432.08 L398.97,432.07 L400.49,432.06 L402.00,432.05 L403.52,432.04 L405.04,432.03 L406.56,432.02 L408.08,432.01 L409.59,432.00 L411.11,431.99 L412.63,431.98 L414.15,431.97 L415.67,431.96 L417.19,431.95 L418.70,431.94 L420.22,431.93 L421.74,431.92 L423.26,431.91 L424.78,431.90 L426.30,431.89 L427.81,431.88 L429.33,431.87 L430.85,431.86 L432.37,431.86 L433.89,431.85 L435.40,431.84 L436.92,431.83 L438.44,431.82 L439.96,431.82 L441.48,431.81 L443.00,431.80 L444.51,431.79 L446.03,431.78 L447.55,431.78 L449.07,431.77 L450.59,431.76 L452.10,431.76 L453.62,431.75 L455.14,431.74 L456.66,431.73 L458.18,431.73 L459.70,431.72 L461.21,431.71 L462.73,431.71" stroke="#008080" stroke-dasharray="7.1 2.5 2.1 2.55"/>
<path d="M68.00,392.10 L68.30,392.25 L68.61,392.70 L68.91,393.44 L69.21,394.48 L69.52,395.80 L69.82,397.39 L70.13,399.25 L70.43,401.37 L70.73,403.72 L71.04,406.30 L71.34,409.09 L71.64,412.07 L71.95,415.23 L72.25,418.54 L72.55,422.00 L72.86,425.58 L73.16,429.27 L73.47,433.04 L73.77,436.88 L74.07,440.77 L74.38,444.70 L74.68,448.65 L74.98,452.60 L75.29,456.54 L75.59,460.47 L75.89,464.35 L76.20,468.20 L76.50,471.98 L76.81,475.70 L77.11,479.35 L77.41,482.91 L77.72,486.39 L78.02,489.77 L78.32,493.05 L78.63,496.24 L78.93,499.31 L79.23,502.28 L79.54,505.14 L79.84,507.89 L80.15,510.53 L80.45,513.06 L80.75,515.48 L81.06,517.78 L81.36,519.98 L81.66,522.07 L81.97,524.06 L82.27,525.94 L82.57,527.73 L82.88,529.41 L83.18,531.00 L83.49,532.50 L83.79,533.91 L84.09,535.23 L84.40,536.47 L84.70,537.62 L85.00,538.70 L85.31,539.71 L85.61,540.64 L85.91,541.50 L86.22,542.30 L86.52,543.04 L86.83,543.71 L87.13,544.33 L87.43,544.89 L87.74,545.40 L88.04,545.86 L88.34,546.28 L88.65,546.65 L88.95,546.97 L89.25,547.26 L89.56,547.51 L89.86,547.72 L90.17,547.90 L90.47,548.05 L90.77,548.17 L91.08,548.26 L91.38,548.32 L91.68,548.35 L91.99,548.37 L92.29,548.36 L92.59,548.33 L92.90,548.28 L93.20,548.21 L93.51,548.12 L93.81,548.02 L94.11,547.90 L94.42,547.77 L94.72,547.63 L95.02,547.47 L95.33,547.31 L95.63,547.13 L95.93,546.94 L96.24,546.74 L96.54,546.54 L96.85,546.33 L97.15,546.11 L97.45,545.89 L97.76,545.65 L98.06,545.42 L98.36,545.18 L98.67,544.93 L98.97,544.68 L99.27,544.43 L99.58,544.18 L99.88,543.92 L100.19,543.66 L100.49,543.40 L100.79,543.13 L101.10,542.87 L101.40,542.60 L101.70,542.33 L102.01,542.06 L102.31,541.79 L102.61,541.53 L102.92,541.26 L103.22,540.99 L103.53,540.72 L103.83,540.45 L104.13,540.18 L104.44,539.92 L104.74,539.65 L105.04,539.39 L105.35,539.12 L105.65,538.86 L105.95,538.60 L106.26,538.34 L106.56,538.08 L106.87,537.83 L107.17,537.57 L107.47,537.32 L107.78,537.06 L108.08,536.82 L108.38,536.57 L108.69,536.32 L108.99,536.08 L109.30,535.83 L109.60,535.59 L109.90,535.36 L110.21,535.12 L110.51,534.88 L110.81,534.65 L111.12,534.42 L111.42,534.19 L111.72,533.97 L112.03,533.74 L112.33,533.52 L112.64,533.30 L112.94,533.09 L113.24,532.87 L113.55,532.66 L113.85,532.45 L114.15,532.24 L114.46,532.03 L114.76,531.82 L115.06,531.62 L115.37,531.42 L115.67,531.22 L115.98,531.03 L116.28,530.83 L116.58,530.64 L116.89,530.45 L117.19,530.26 L117.49,530.07 L117.80,529.89 L118.10,529.71 L118.40,529.53 L118.71,529.35 L119.01,529.17 L119.32,529.00 L119.62,528.82 L119.92,528.65 L120.23,528.49 L120.53,528.32 L120.83,528.15 L121.14,527.99 L121.44,527.83 L121.74,527.67 L122.05,527.51 L122.35,527.35 L122.66,527.20 L122.96,527.05 L123.26,526.89 L123.57,526.74 L123.87,526.60 L124.17,526.45 L124.48,526.31 L124.78,526.16 L125.08,526.02 L125.39,525.88 L125.69,525.74 L126.00,525.61 L126.30,525.47 L126.60,525.34 L126.91,525.20 L127.21,525.07 L127.51,524.94 L127.82,524.82 L128.12,524.69 L128.42,524.56 L128.73,524.44 L129.03,524.32 L129.34,524.20 L129.64,524.08 L129.94,523.96 L130.25,523.84 L130.55,523.72 L130.85,523.61 L131.16,523.49 L131.46,523.38 L131.76,523.27 L132.07,523.16 L132.37,523.05 L132.68,522.94 L132.98,522.84 L133.28,522.73 L133.59,522.63 L133.89,522.53 L134.19,522.42 L134.50,522.32 L134.80,522.22 L135.10,522.12 L135.41,522.03 L135.71,521.93 L136.02,521.83 L136.32,521.74 L136.62,521.65 L136.93,521.55 L137.23,521.46 L137.53,521.37 L137.84,521.28 L138.14,521.19 L138.44,521.10 L138.75,521.02 L139.05,520.93 L139.36,520.85 L139.66,520.76 L139.96,520.68 L140.27,520.59 L140.57,520.51 L140.87,520.43 L141.18,520.35 L141.48,520.27 L141.78,520.19 L142.09,520.12 L142.39,520.04 L142.70,519.96 L143.00,519.89 L143.30,519.81 L143.61,519.74 L143.91,519.66 L144.21,519.59 L144.52,519.52 L144.82,519.45 L145.12,519.38 L145.43,519.31 L145.73,519.24 L146.04,519.17 L146.34,519.10 L146.64,519.04 L146.95,518.97 L147.25,518.90 L147.55,518.84 L147.86,518.78 L148.16,518.71 L148.46,518.65 L148.77,518.59 L149.07,518.52 L149.38,518.46 L149.68,518.40 L149.98,518.34 L150.29,518.28 L150.59,518.22 L150.89,518.16 L151.20,518.11 L151.50,518.05 L151.80,517.99 L152.11,517.93 L152.41,517.88 L152.72,517.82 L153.02,517.77 L153.32,517.71 L153.63,517.66 L153.93,517.61 L154.23,517.55 L154.54,517.50 L154.84,517.45 L155.14,517.40 L155.45,517.35 L155.75,517.30 L156.06,517.25 L156.36,517.20 L156.66,517.15 L156.97,517.10 L157.27,517.05 L157.57,517.00 L157.88,516.96 L158.18,516.91 L158.48,516.86 L158.79,516.82 L159.09,516.77 L159.40,516.72 L159.70,516.68 L160.00,516.63 L160.31,516.59 L160.61,516.55 L160.91,516.50 L161.22,516.46 L161.52,516.42 L161.82,516.38 L162.13,516.33 L162.43,516.29 L162.74,516.25 L163.04,516.21 L163.34,516.17 L163.65,516.13 L163.95,516.09 L164.25,516.05 L164.56,516.01 L164.86,515.97 L165.16,515.93 L165.47,515.89 L165.77,515.86 L166.08,515.82 L166.38,515.78 L166.68,515.75 L166.99,515.71 L167.29,515.67 L167.59,515.64 L167.90,515.60 L168.20,515.57 L168.50,515.53 L168.81,515.50 L169.11,515.46 L169.42,515.43 L169.72,515.39 L170.02,515.36 L170.33,515.32 L170.63,515.29 L170.93,515.26 L171.24,515.23 L171.54,515.19 L171.84,515.16 L172.15,515.13 L172.45,515.10 L172.76,515.07 L173.06,515.04 L173.36,515.00 L173.67,514.97 L173.97,514.94 L174.27,514.91 L174.58,514.88 L174.88,514.85 L175.18,514.82 L175.49,514.79 L175.79,514.77 L176.10,514.74 L176.40,514.71 L176.70,514.68 L177.01,514.65 L177.31,514.62 L177.61,514.60 L177.92,514.57 L178.22,514.54 L178.52,514.51 L178.83,514.49 L179.13,514.46 L179.44,514.43 L179.74,514.41 L180.04,514.38 L180.35,514.36 L180.65,514.33 L180.95,514.30 L181.26,514.28 L181.56,514.25 L181.87,514.23 L183.38,514.11 L184.90,513.99 L186.42,513.88 L187.94,513.77 L189.46,513.66 L190.97,513.56 L192.49,513.46 L194.01,513.37 L195.53,513.27 L197.05,513.18 L198.57,513.10 L200.08,513.02 L201.60,512.93 L203.12,512.86 L204.64,512.78 L206.16,512.71 L207.67,512.64 L209.19,512.57 L210.71,512.50 L212.23,512.44 L213.75,512.37 L215.27,512.31 L216.78,512.25 L218.30,512.20 L219.82,512.14 L221.34,512.09 L222.86,512.03 L224.37,511.98 L225.89,511.93 L227.41,511.88 L228.93,511.84 L230.45,511.79 L231.97,511.75 L233.48,511.70 L235.00,511.66 L236.52,511.62 L238.04,511.58 L239.56,511.54 L241.07,511.50 L242.59,511.46 L244.11,511.43 L245.63,511.39 L247.15,511.36 L248.67,511.32 L250.18,511.29 L251.70,511.26 L253.22,511.23 L254.74,511.20 L256.26,511.17 L257.77,511.14 L259.29,511.11 L260.81,511.08 L262.33,511.05 L263.85,511.03 L265.37,511.00 L266.88,510.98 L268.40,510.95 L269.92,510.93 L271.44,510.90 L272.96,510.88 L274.48,510.86 L275.99,510.84 L277.51,510.81 L279.03,510.79 L280.55,510.77 L282.07,510.75 L283.58,510.73 L285.10,510.71 L286.62,510.69 L288.14,510.67 L289.66,510.65 L291.18,510.64 L292.69,510.62 L294.21,510.60 L295.73,510.58 L297.25,510.57 L298.77,510.55 L300.28,510.54 L301.80,510.52 L303.32,510.50 L304.84,510.49 L306.36,510.47 L307.88,510.46 L309.39,510.44 L310.91,510.43 L312.43,510.42 L313.95,510.40 L315.47,510.39 L316.98,510.38 L318.50,510.36 L320.02,510.35 L321.54,510.34 L323.06,510.33 L324.58,510.31 L326.09,510.30 L327.61,510.29 L329.13,510.28 L330.65,510.27 L332.17,510.26 L333.69,510.25 L335.20,510.24 L336.72,510.23 L338.24,510.22 L339.76,510.21 L341.28,510.20 L342.79,510.19 L344.31,510.18 L345.83,510.17 L347.35,510.16 L348.87,510.15 L350.39,510.14 L351.90,510.13 L353.42,510.12 L354.94,510.11 L356.46,510.10 L357.98,510.10 L359.49,510.09 L361.01,510.08 L362.53,510.07 L364.05,510.06 L365.57,510.06 L367.09,510.05 L368.60,510.04 L370.12,510.03 L371.64,510.03 L373.16,510.02 L374.68,510.01 L376.19,510.01 L377.71,510.00 L379.23,509.99 L380.75,509.99 L382.27,509.98 L383.79,509.97 L385.30,509.97 L386.82,509.96 L388.34,509.95 L389.86,509.95 L391.38,509.94 L392.89,509.94 L394.41,509.93 L395.93,509.92 L397.45,509.92 L398.97,509.91 L400.49,509.91 L402.00,509.90 L403.52,509.90 L405.04,509.89 L406.56,509.89 L408.08,509.88 L409.59,509.88 L411.11,509.87 L412.63,509.87 L414.15,509.86 L415.67,509.86 L417.19,509.85 L418.70,509.85 L420.22,509.84 L421.74,509.84 L423.26,509.83 L424.78,509.83 L426.30,509.82 L427.81,509.82 L429.33,509.81 L430.85,509.81 L432.37,509.81 L433.89,509.80 L435.40,509.80 L436.92,509.79 L438.44,509.79 L439.96,509.79 L441.48,509.78 L443.00,509.78 L444.51,509.77 L446.03,509.77 L447.55,509.77 L449.07,509.76 L450.59,509.76 L452.10,509.76 L453.62,509.75 L455.14,509.75 L456.66,509.74 L458.18,509.74 L459.70,509.74 L461.21,509.73 L462.73,509.73" stroke="#ff0000" stroke-dasharray="6.3 4.8"/>
<path d="M68.00,626.50 L68.30,626.50 L68.61,626.50 L68.91,626.50 L69.21,626.50 L69.52,626.49 L69.82,626.48 L70.13,626.47 L70.43,626.45 L70.73,626.43 L71.04,626.39 L71.34,626.34 L71.64,626.27 L71.95,626.19 L72.25,626.09 L72.55,625.97 L72.86,625.83 L73.16,625.66 L73.47,625.47 L73.77,625.24 L74.07,624.99 L74.38,624.71 L74.68,624.39 L74.98,624.04 L75.29,623.66 L75.59,623.24 L75.89,622.79 L76.20,622.31 L76.50,621.79 L76.81,621.23 L77.11,620.64 L77.41,620.02 L77.72,619.36 L78.02,618.67 L78.32,617.95 L78.63,617.21 L78.93,616.43 L79.23,615.62 L79.54,614.79 L79.84,613.94 L80.15,613.06 L80.45,612.16 L80.75,611.24 L81.06,610.30 L81.36,609.35 L81.66,608.38 L81.97,607.40 L82.27,606.40 L82.57,605.39 L82.88,604.37 L83.18,603.35 L83.49,602.32 L83.79,601.28 L84.09,600.24 L84.40,599.19 L84.70,598.15 L85.00,597.10 L85.31,596.05 L85.61,595.00 L85.91,593.96 L86.22,592.91 L86.52,591.88 L86.83,590.84 L87.13,589.81 L87.43,588.79 L87.74,587.77 L88.04,586.76 L88.34,585.76 L88.65,584.77 L88.95,583.78 L89.25,582.81 L89.56,581.84 L89.86,580.88 L90.17,579.93 L90.47,578.99 L90.77,578.07 L91.08,577.15 L91.38,576.24 L91.68,575.35 L91.99,574.46 L92.29,573.59 L92.59,572.73 L92.90,571.87 L93.20,571.03 L93.51,570.21 L93.81,569.39 L94.11,568.58 L94.42,567.79 L94.72,567.01 L95.02,566.23 L95.33,565.47 L95.63,564.72 L95.93,563.98 L96.24,563.26 L96.54,562.54 L96.85,561.83 L97.15,561.14 L97.45,560.46 L97.76,559.78 L98.06,559.12 L98.36,558.47 L98.67,557.82 L98.97,557.19 L99.27,556.57 L99.58,555.95 L99.88,555.35 L100.19,554.76 L100.49,554.17 L100.79,553.60 L101.10,553.03 L101.40,552.47 L101.70,551.93 L102.01,551.39 L102.31,550.86 L102.61,550.33 L102.92,549.82 L103.22,549.31 L103.53,548.82 L103.83,548.33 L104.13,547.84 L104.44,547.37 L104.74,546.90 L105.04,546.45 L105.35,545.99 L105.65,545.55 L105.95,545.11 L106.26,544.68 L106.56,544.26 L106.87,543.84 L107.17,543.43 L107.47,543.03 L107.78,542.63 L108.08,542.24 L108.38,541.85 L108.69,541.47 L108.99,541.10 L109.30,540.73 L109.60,540.37 L109.90,540.01 L110.21,539.66 L110.51,539.32 L110.81,538.98 L111.12,538.64 L111.42,538.31 L111.72,537.99 L112.03,537.67 L112.33,537.35 L112.64,537.04 L112.94,536.74 L113.24,536.44 L113.55,536.14 L113.85,535.85 L114.15,535.56 L114.46,535.28 L114.76,535.00 L115.06,534.73 L115.37,534.46 L115.67,534.19 L115.98,533.93 L116.28,533.67 L116.58,533.41 L116.89,533.16 L117.19,532.91 L117.49,532.67 L117.80,532.43 L118.10,532.19 L118.40,531.96 L118.71,531.73 L119.01,531.50 L119.32,531.28 L119.62,531.06 L119.92,530.84 L120.23,530.62 L120.53,530.41 L120.83,530.20 L121.14,530.00 L121.44,529.80 L121.74,529.60 L122.05,529.40 L122.35,529.20 L122.66,529.01 L122.96,528.82 L123.26,528.64 L123.57,528.45 L123.87,528.27 L124.17,528.09 L124.48,527.91 L124.78,527.74 L125.08,527.57 L125.39,527.40 L125.69,527.23 L126.00,527.07 L126.30,526.90 L126.60,526.74 L126.91,526.58 L127.21,526.42 L127.51,526.27 L127.82,526.12 L128.12,525.97 L128.42,525.82 L128.73,525.67 L129.03,525.52 L129.34,525.38 L129.64,525.24 L129.94,525.10 L130.25,524.96 L130.55,524.83 L130.85,524.69 L131.16,524.56 L131.46,524.43 L131.76,524.30 L132.07,524.17 L132.37,524.04 L132.68,523.92 L132.98,523.79 L133.28,523.67 L133.59,523.55 L133.89,523.43 L134.19,523.32 L134.50,523.20 L134.80,523.09 L135.10,522.97 L135.41,522.86 L135.71,522.75 L136.02,522.64 L136.32,522.53 L136.62,522.42 L136.93,522.32 L137.23,522.21 L137.53,522.11 L137.84,522.01 L138.14,521.91 L138.44,521.81 L138.75,521.71 L139.05,521.61 L139.36,521.52 L139.66,521.42 L139.96,521.33 L140.27,521.24 L140.57,521.14 L140.87,521.05 L141.18,520.96 L141.48,520.87 L141.78,520.79 L142.09,520.70 L142.39,520.61 L142.70,520.53 L143.00,520.44 L143.30,520.36 L143.61,520.28 L143.91,520.20 L144.21,520.12 L144.52,520.04 L144.82,519.96 L145.12,519.88 L145.43,519.80 L145.73,519.73 L146.04,519.65 L146.34,519.58 L146.64,519.50 L146.95,519.43 L147.25,519.36 L147.55,519.28 L147.86,519.21 L148.16,519.14 L148.46,519.07 L148.77,519.00 L149.07,518.94 L149.38,518.87 L149.68,518.80 L149.98,518.74 L150.29,518.67 L150.59,518.61 L150.89,518.54 L151.20,518.48 L151.50,518.42 L151.80,518.35 L152.11,518.29 L152.41,518.23 L152.72,518.17 L153.02,518.11 L153.32,518.05 L153.63,518.00 L153.93,517.94 L154.23,517.88 L154.54,517.82 L154.84,517.77 L155.14,517.71 L155.45,517.66 L155.75,517.60 L156.06,517.55 L156.36,517.49 L156.66,517.44 L156.97,517.39 L157.27,517.34 L157.57,517.28 L157.88,517.23 L158.18,517.18 L158.48,517.13 L158.79,517.08 L159.09,517.03 L159.40,516.99 L159.70,516.94 L160.00,516.89 L160.31,516.84 L160.61,516.79 L160.91,516.75 L161.22,516.70 L161.52,516.66 L161.82,516.61 L162.13,516.57 L162.43,516.52 L162.74,516.48 L163.04,516.43 L163.34,516.39 L163.65,516.35 L163.95,516.31 L164.25,516.26 L164.56,516.22 L164.86,516.18 L165.16,516.14 L165.47,516.10 L165.77,516.06 L166.08,516.02 L166.38,515.98 L166.68,515.94 L166.99,515.90 L167.29,515.86 L167.59,515.82 L167.90,515.79 L168.20,515.75 L168.50,515.71 L168.81,515.67 L169.11,515.64 L169.42,515.60 L169.72,515.56 L170.02,515.53 L170.33,515.49 L170.63,515.46 L170.93,515.42 L171.24,515.39 L171.54,515.35 L171.84,515.32 L172.15,515.29 L172.45,515.25 L172.76,515.22 L173.06,515.19 L173.36,515.15 L173.67,515.12 L173.97,515.09 L174.27,515.06 L174.58,515.03 L174.88,515.00 L175.18,514.96 L175.49,514.93 L175.79,514.90 L176.10,514.87 L176.40,514.84 L176.70,514.81 L177.01,514.78 L177.31,514.75 L177.61,514.72 L177.92,514.70 L178.22,514.67 L178.52,514.64 L178.83,514.61 L179.13,514.58 L179.44,514.55 L179.74,514.53 L180.04,514.50 L180.35,514.47 L180.65,514.45 L180.95,514.42 L181.26,514.39 L181.56,514.37 L181.87,514.34 L183.38,514.21 L184.90,514.09 L186.42,513.97 L187.94,513.86 L189.46,513.75 L190.97,513.64 L192.49,513.54 L194.01,513.44 L195.53,513.34 L197.05,513.25 L198.57,513.16 L200.08,513.08 L201.60,512.99 L203.12,512.91 L204.64,512.84 L206.16,512.76 L207.67,512.69 L209.19,512.62 L210.71,512.55 L212.23,512.48 L213.75,512.42 L215.27,512.35 L216.78,512.29 L218.30,512.23 L219.82,512.18 L221.34,512.12 L222.86,512.07 L224.37,512.01 L225.89,511.96 L227.41,511.91 L228.93,511.86 L230.45,511.82 L231.97,511.77 L233.48,511.73 L235.00,511.68 L236.52,511.64 L238.04,511.60 L239.56,511.56 L241.07,511.52 L242.59,511.48 L244.11,511.45 L245.63,511.41 L247.15,511.38 L248.67,511.34 L250.18,511.31 L251.70,511.28 L253.22,511.24 L254.74,511.21 L256.26,511.18 L257.77,511.15 L259.29,511.12 L260.81,511.10 L262.33,511.07 L263.85,511.04 L265.37,511.01 L266.88,510.99 L268.40,510.96 L269.92,510.94 L271.44,510.91 L272.96,510.89 L274.48,510.87 L275.99,510.85 L277.51,510.82 L279.03,510.80 L280.55,510.78 L282.07,510.76 L283.58,510.74 L285.10,510.72 L286.62,510.70 L288.14,510.68 L289.66,510.66 L291.18,510.64 L292.69,510.63 L294.21,510.61 L295.73,510.59 L297.25,510.57 L298.77,510.56 L300.28,510.54 L301.80,510.53 L303.32,510.51 L304.84,510.49 L306.36,510.48 L307.88,510.46 L309.39,510.45 L310.91,510.44 L312.43,510.42 L313.95,510.41 L315.47,510.40 L316.98,510.38 L318.50,510.37 L320.02,510.36 L321.54,510.34 L323.06,510.33 L324.58,510.32 L326.09,510.31 L327.61,510.30 L329.13,510.28 L330.65,510.27 L332.17,510.26 L333.69,510.25 L335.20,510.24 L336.72,510.23 L338.24,510.22 L339.76,510.21 L341.28,510.20 L342.79,510.19 L344.31,510.18 L345.83,510.17 L347.35,510.16 L348.87,510.15 L350.39,510.14 L351.90,510.13 L353.42,510.12 L354.94,510.12 L356.46,510.11 L357.98,510.10 L359.49,510.09 L361.01,510.08 L362.53,510.07 L364.05,510.07 L365.57,510.06 L367.09,510.05 L368.60,510.04 L370.12,510.04 L371.64,510.03 L373.16,510.02 L374.68,510.01 L376.19,510.01 L377.71,510.00 L379.23,509.99 L380.75,509.99 L382.27,509.98 L383.79,509.97 L385.30,509.97 L386.82,509.96 L388.34,509.96 L389.86,509.95 L391.38,509.94 L392.89,509.94 L394.41,509.93 L395.93,509.93 L397.45,509.92 L398.97,509.91 L400.49,509.91 L402.00,509.90 L403.52,509.90 L405.04,509.89 L406.56,509.89 L408.08,509.88 L409.59,509.88 L411.11,509.87 L412.63,509.87 L414.15,509.86 L415.67,509.86 L417.19,509.85 L418.70,509.85 L420.22,509.84 L421.74,509.84 L423.26,509.83 L424.78,509.83 L426.30,509.82 L427.81,509.82 L429.33,509.82 L430.85,509.81 L432.37,509.81 L433.89,509.80 L435.40,509.80 L436.92,509.79 L438.44,509.79 L439.96,509.79 L441.48,509.78 L443.00,509.78 L444.51,509.77 L446.03,509.77 L447.55,509.77 L449.07,509.76 L450.59,509.76 L452.10,509.76 L453.62,509.75 L455.14,509.75 L456.66,509.75 L458.18,509.74 L459.70,509.74 L461.21,509.74 L462.73,509.73" stroke="#0000ff" stroke-dasharray="2.6 4.4"/>
<path d="M68.00,469.59 L68.30,469.69 L68.61,469.99 L68.91,470.50 L69.21,471.20 L69.52,472.09 L69.82,473.17 L70.13,474.43 L70.43,475.86 L70.73,477.46 L71.04,479.21 L71.34,481.11 L71.64,483.14 L71.95,485.29 L72.25,487.55 L72.55,489.91 L72.86,492.36 L73.16,494.88 L73.47,497.47 L73.77,500.10 L74.07,502.78 L74.38,505.48 L74.68,508.20 L74.98,510.92 L75.29,513.65 L75.59,516.36 L75.89,519.04 L76.20,521.70 L76.50,524.32 L76.81,526.90 L77.11,529.43 L77.41,531.90 L77.72,534.31 L78.02,536.66 L78.32,538.94 L78.63,541.14 L78.93,543.28 L79.23,545.33 L79.54,547.31 L79.84,549.21 L80.15,551.03 L80.45,552.76 L80.75,554.42 L81.06,556.00 L81.36,557.50 L81.66,558.92 L81.97,560.26 L82.27,561.53 L82.57,562.72 L82.88,563.84 L83.18,564.89 L83.49,565.87 L83.79,566.78 L84.09,567.63 L84.40,568.42 L84.70,569.14 L85.00,569.80 L85.31,570.41 L85.61,570.97 L85.91,571.47 L86.22,571.92 L86.52,572.33 L86.83,572.69 L87.13,573.00 L87.43,573.27 L87.74,573.51 L88.04,573.71 L88.34,573.87 L88.65,573.99 L88.95,574.09 L89.25,574.15 L89.56,574.19 L89.86,574.20 L90.17,574.18 L90.47,574.14 L90.77,574.07 L91.08,573.99 L91.38,573.88 L91.68,573.75 L91.99,573.61 L92.29,573.45 L92.59,573.28 L92.90,573.09 L93.20,572.89 L93.51,572.67 L93.81,572.45 L94.11,572.21 L94.42,571.96 L94.72,571.71 L95.02,571.44 L95.33,571.17 L95.63,570.89 L95.93,570.60 L96.24,570.31 L96.54,570.02 L96.85,569.72 L97.15,569.41 L97.45,569.10 L97.76,568.79 L98.06,568.47 L98.36,568.15 L98.67,567.83 L98.97,567.51 L99.27,567.19 L99.58,566.87 L99.88,566.54 L100.19,566.21 L100.49,565.89 L100.79,565.56 L101.10,565.24 L101.40,564.91 L101.70,564.59 L102.01,564.26 L102.31,563.94 L102.61,563.61 L102.92,563.29 L103.22,562.97 L103.53,562.66 L103.83,562.34 L104.13,562.02 L104.44,561.71 L104.74,561.40 L105.04,561.09 L105.35,560.78 L105.65,560.48 L105.95,560.17 L106.26,559.87 L106.56,559.57 L106.87,559.28 L107.17,558.98 L107.47,558.69 L107.78,558.40 L108.08,558.12 L108.38,557.83 L108.69,557.55 L108.99,557.27 L109.30,557.00 L109.60,556.72 L109.90,556.45 L110.21,556.19 L110.51,555.92 L110.81,555.66 L111.12,555.40 L111.42,555.14 L111.72,554.88 L112.03,554.63 L112.33,554.38 L112.64,554.13 L112.94,553.89 L113.24,553.65 L113.55,553.41 L113.85,553.17 L114.15,552.94 L114.46,552.70 L114.76,552.48 L115.06,552.25 L115.37,552.02 L115.67,551.80 L115.98,551.58 L116.28,551.37 L116.58,551.15 L116.89,550.94 L117.19,550.73 L117.49,550.52 L117.80,550.32 L118.10,550.11 L118.40,549.91 L118.71,549.71 L119.01,549.52 L119.32,549.32 L119.62,549.13 L119.92,548.94 L120.23,548.75 L120.53,548.57 L120.83,548.38 L121.14,548.20 L121.44,548.02 L121.74,547.85 L122.05,547.67 L122.35,547.50 L122.66,547.33 L122.96,547.16 L123.26,546.99 L123.57,546.83 L123.87,546.66 L124.17,546.50 L124.48,546.34 L124.78,546.18 L125.08,546.03 L125.39,545.87 L125.69,545.72 L126.00,545.57 L126.30,545.42 L126.60,545.27 L126.91,545.12 L127.21,544.98 L127.51,544.84 L127.82,544.69 L128.12,544.55 L128.42,544.42 L128.73,544.28 L129.03,544.14 L129.34,544.01 L129.64,543.88 L129.94,543.75 L130.25,543.62 L130.55,543.49 L130.85,543.36 L131.16,543.24 L131.46,543.12 L131.76,542.99 L132.07,542.87 L132.37,542.75 L132.68,542.63 L132.98,542.52 L133.28,542.40 L133.59,542.29 L133.89,542.17 L134.19,542.06 L134.50,541.95 L134.80,541.84 L135.10,541.73 L135.41,541.62 L135.71,541.52 L136.02,541.41 L136.32,541.31 L136.62,541.21 L136.93,541.10 L137.23,541.00 L137.53,540.90 L137.84,540.81 L138.14,540.71 L138.44,540.61 L138.75,540.52 L139.05,540.42 L139.36,540.33 L139.66,540.23 L139.96,540.14 L140.27,540.05 L140.57,539.96 L140.87,539.87 L141.18,539.79 L141.48,539.70 L141.78,539.61 L142.09,539.53 L142.39,539.44 L142.70,539.36 L143.00,539.28 L143.30,539.19 L143.61,539.11 L143.91,539.03 L144.21,538.95 L144.52,538.87 L144.82,538.80 L145.12,538.72 L145.43,538.64 L145.73,538.57 L146.04,538.49 L146.34,538.42 L146.64,538.34 L146.95,538.27 L147.25,538.20 L147.55,538.13 L147.86,538.06 L148.16,537.99 L148.46,537.92 L148.77,537.85 L149.07,537.78 L149.38,537.71 L149.68,537.65 L149.98,537.58 L150.29,537.52 L150.59,537.45 L150.89,537.39 L151.20,537.32 L151.50,537.26 L151.80,537.20 L152.11,537.14 L152.41,537.08 L152.72,537.02 L153.02,536.95 L153.32,536.90 L153.63,536.84 L153.93,536.78 L154.23,536.72 L154.54,536.66 L154.84,536.61 L155.14,536.55 L155.45,536.49 L155.75,536.44 L156.06,536.38 L156.36,536.33 L156.66,536.28 L156.97,536.22 L157.27,536.17 L157.57,536.12 L157.88,536.07 L158.18,536.01 L158.48,535.96 L158.79,535.91 L159.09,535.86 L159.40,535.81 L159.70,535.76 L160.00,535.71 L160.31,535.67 L160.61,535.62 L160.91,535.57 L161.22,535.52 L161.52,535.48 L161.82,535.43 L162.13,535.38 L162.43,535.34 L162.74,535.29 L163.04,535.25 L163.34,535.21 L163.65,535.16 L163.95,535.12 L164.25,535.07 L164.56,535.03 L164.86,534.99 L165.16,534.95 L165.47,534.91 L165.77,534.86 L166.08,534.82 L166.38,534.78 L166.68,534.74 L166.99,534.70 L167.29,534.66 L167.59,534.62 L167.90,534.58 L168.20,534.54 L168.50,534.51 L168.81,534.47 L169.11,534.43 L169.42,534.39 L169.72,534.36 L170.02,534.32 L170.33,534.28 L170.63,534.25 L170.93,534.21 L171.24,534.17 L171.54,534.14 L171.84,534.10 L172.15,534.07 L172.45,534.03 L172.76,534.00 L173.06,533.97 L173.36,533.93 L173.67,533.90 L173.97,533.86 L174.27,533.83 L174.58,533.80 L174.88,533.77 L175.18,533.73 L175.49,533.70 L175.79,533.67 L176.10,533.64 L176.40,533.61 L176.70,533.58 L177.01,533.55 L177.31,533.52 L177.61,533.49 L177.92,533.46 L178.22,533.43 L178.52,533.40 L178.83,533.37 L179.13,533.34 L179.44,533.31 L179.74,533.28 L180.04,533.25 L180.35,533.22 L180.65,533.19 L180.95,533.17 L181.26,533.14 L181.56,533.11 L181.87,533.08 L183.38,532.95 L184.90,532.82 L186.42,532.70 L187.94,532.58 L189.46,532.46 L190.97,532.35 L192.49,532.25 L194.01,532.14 L195.53,532.04 L197.05,531.94 L198.57,531.85 L200.08,531.76 L201.60,531.67 L203.12,531.59 L204.64,531.50 L206.16,531.42 L207.67,531.35 L209.19,531.27 L210.71,531.20 L212.23,531.13 L213.75,531.06 L215.27,530.99 L216.78,530.93 L218.30,530.86 L219.82,530.80 L221.34,530.74 L222.86,530.69 L224.37,530.63 L225.89,530.58 L227.41,530.52 L228.93,530.47 L230.45,530.42 L231.97,530.37 L233.48,530.32 L235.00,530.28 L236.52,530.23 L238.04,530.19 L239.56,530.15 L241.07,530.11 L242.59,530.06 L244.11,530.02 L245.63,529.99 L247.15,529.95 L248.67,529.91 L250.18,529.88 L251.70,529.84 L253.22,529.81 L254.74,529.77 L256.26,529.74 L257.77,529.71 L259.29,529.68 L260.81,529.65 L262.33,529.62 L263.85,529.59 L265.37,529.56 L266.88,529.53 L268.40,529.51 L269.92,529.48 L271.44,529.45 L272.96,529.43 L274.48,529.40 L275.99,529.38 L277.51,529.35 L279.03,529.33 L280.55,529.31 L282.07,529.29 L283.58,529.26 L285.10,529.24 L286.62,529.22 L288.14,529.20 L289.66,529.18 L291.18,529.16 L292.69,529.14 L294.21,529.12 L295.73,529.10 L297.25,529.09 L298.77,529.07 L300.28,529.05 L301.80,529.03 L303.32,529.02 L304.84,529.00 L306.36,528.98 L307.88,528.97 L309.39,528.95 L310.91,528.94 L312.43,528.92 L313.95,528.91 L315.47,528.89 L316.98,528.88 L318.50,528.86 L320.02,528.85 L321.54,528.84 L323.06,528.82 L324.58,528.81 L326.09,528.80 L327.61,528.78 L329.13,528.77 L330.65,528.76 L332.17,528.75 L333.69,528.74 L335.20,528.72 L336.72,528.71 L338.24,528.70 L339.76,528.69 L341.28,528.68 L342.79,528.67 L344.31,528.66 L345.83,528.65 L347.35,528.64 L348.87,528.63 L350.39,528.62 L351.90,528.61 L353.42,528.60 L354.94,528.59 L356.46,528.58 L357.98,528.57 L359.49,528.56 L361.01,528.55 L362.53,528.55 L364.05,528.54 L365.57,528.53 L367.09,528.52 L368.60,528.51 L370.12,528.50 L371.64,528.50 L373.16,528.49 L374.68,528.48 L376.19,528.47 L377.71,528.47 L379.23,528.46 L380.75,528.45 L382.27,528.44 L383.79,528.44 L385.30,528.43 L386.82,528.42 L388.34,528.42 L389.86,528.41 L391.38,528.40 L392.89,528.40 L394.41,528.39 L395.93,528.38 L397.45,528.38 L398.97,528.37 L400.49,528.37 L402.00,528.36 L403.52,528.35 L405.04,528.35 L406.56,528.34 L408.08,528.34 L409.59,528.33 L411.11,528.33 L412.63,528.32 L414.15,528.31 L415.67,528.31 L417.19,528.30 L418.70,528.30 L420.22,528.29 L421.74,528.29 L423.26,528.28 L424.78,528.28 L426.30,528.27 L427.81,528.27 L429.33,528.26 L430.85,528.26 L432.37,528.26 L433.89,528.25 L435.40,528.25 L436.92,528.24 L438.44,528.24 L439.96,528.23 L441.48,528.23 L443.00,528.22 L444.51,528.22 L446.03,528.22 L447.55,528.21 L449.07,528.21 L450.59,528.20 L452.10,528.20 L453.62,528.20 L455.14,528.19 L456.66,528.19 L458.18,528.18 L459.70,528.18 L461.21,528.18 L462.73,528.17" stroke="#ff00ff" stroke-dasharray="5.8 2.3 2.2 2.3 2.2 2.3"/>
<path d="M68.00,626.50 L68.30,626.50 L68.61,626.50 L68.91,626.50 L69.21,626.50 L69.52,626.49 L69.82,626.49 L70.13,626.48 L70.43,626.47 L70.73,626.45 L71.04,626.42 L71.34,626.39 L71.64,626.34 L71.95,626.29 L72.25,626.22 L72.55,626.13 L72.86,626.03 L73.16,625.92 L73.47,625.78 L73.77,625.63 L74.07,625.45 L74.38,625.25 L74.68,625.02 L74.98,624.78 L75.29,624.51 L75.59,624.21 L75.89,623.88 L76.20,623.53 L76.50,623.16 L76.81,622.76 L77.11,622.33 L77.41,621.88 L77.72,621.40 L78.02,620.89 L78.32,620.37 L78.63,619.81 L78.93,619.24 L79.23,618.64 L79.54,618.02 L79.84,617.39 L80.15,616.73 L80.45,616.05 L80.75,615.36 L81.06,614.65 L81.36,613.93 L81.66,613.19 L81.97,612.44 L82.27,611.68 L82.57,610.90 L82.88,610.12 L83.18,609.33 L83.49,608.53 L83.79,607.72 L84.09,606.91 L84.40,606.10 L84.70,605.28 L85.00,604.46 L85.31,603.63 L85.61,602.81 L85.91,601.98 L86.22,601.15 L86.52,600.33 L86.83,599.51 L87.13,598.69 L87.43,597.87 L87.74,597.05 L88.04,596.24 L88.34,595.43 L88.65,594.63 L88.95,593.84 L89.25,593.04 L89.56,592.26 L89.86,591.48 L90.17,590.71 L90.47,589.94 L90.77,589.18 L91.08,588.43 L91.38,587.69 L91.68,586.95 L91.99,586.23 L92.29,585.50 L92.59,584.79 L92.90,584.09 L93.20,583.39 L93.51,582.71 L93.81,582.03 L94.11,581.36 L94.42,580.69 L94.72,580.04 L95.02,579.40 L95.33,578.76 L95.63,578.13 L95.93,577.51 L96.24,576.90 L96.54,576.30 L96.85,575.70 L97.15,575.12 L97.45,574.54 L97.76,573.97 L98.06,573.41 L98.36,572.86 L98.67,572.31 L98.97,571.78 L99.27,571.25 L99.58,570.73 L99.88,570.21 L100.19,569.71 L100.49,569.21 L100.79,568.72 L101.10,568.23 L101.40,567.76 L101.70,567.29 L102.01,566.83 L102.31,566.37 L102.61,565.92 L102.92,565.48 L103.22,565.05 L103.53,564.62 L103.83,564.20 L104.13,563.78 L104.44,563.38 L104.74,562.97 L105.04,562.58 L105.35,562.19 L105.65,561.80 L105.95,561.42 L106.26,561.05 L106.56,560.68 L106.87,560.32 L107.17,559.97 L107.47,559.62 L107.78,559.27 L108.08,558.93 L108.38,558.60 L108.69,558.27 L108.99,557.94 L109.30,557.62 L109.60,557.31 L109.90,557.00 L110.21,556.69 L110.51,556.39 L110.81,556.09 L111.12,555.80 L111.42,555.51 L111.72,555.23 L112.03,554.95 L112.33,554.67 L112.64,554.40 L112.94,554.14 L113.24,553.87 L113.55,553.61 L113.85,553.36 L114.15,553.11 L114.46,552.86 L114.76,552.61 L115.06,552.37 L115.37,552.13 L115.67,551.90 L115.98,551.67 L116.28,551.44 L116.58,551.22 L116.89,550.99 L117.19,550.78 L117.49,550.56 L117.80,550.35 L118.10,550.14 L118.40,549.93 L118.71,549.73 L119.01,549.53 L119.32,549.33 L119.62,549.14 L119.92,548.95 L120.23,548.76 L120.53,548.57 L120.83,548.39 L121.14,548.20 L121.44,548.02 L121.74,547.85 L122.05,547.67 L122.35,547.50 L122.66,547.33 L122.96,547.16 L123.26,547.00 L123.57,546.83 L123.87,546.67 L124.17,546.51 L124.48,546.36 L124.78,546.20 L125.08,546.05 L125.39,545.90 L125.69,545.75 L126.00,545.60 L126.30,545.46 L126.60,545.32 L126.91,545.17 L127.21,545.04 L127.51,544.90 L127.82,544.76 L128.12,544.63 L128.42,544.50 L128.73,544.36 L129.03,544.24 L129.34,544.11 L129.64,543.98 L129.94,543.86 L130.25,543.73 L130.55,543.61 L130.85,543.49 L131.16,543.37 L131.46,543.26 L131.76,543.14 L132.07,543.03 L132.37,542.92 L132.68,542.80 L132.98,542.69 L133.28,542.59 L133.59,542.48 L133.89,542.37 L134.19,542.27 L134.50,542.16 L134.80,542.06 L135.10,541.96 L135.41,541.86 L135.71,541.76 L136.02,541.66 L136.32,541.57 L136.62,541.47 L136.93,541.38 L137.23,541.28 L137.53,541.19 L137.84,541.10 L138.14,541.01 L138.44,540.92 L138.75,540.83 L139.05,540.75 L139.36,540.66 L139.66,540.57 L139.96,540.49 L140.27,540.41 L140.57,540.32 L140.87,540.24 L141.18,540.16 L141.48,540.08 L141.78,540.00 L142.09,539.93 L142.39,539.85 L142.70,539.77 L143.00,539.70 L143.30,539.62 L143.61,539.55 L143.91,539.48 L144.21,539.40 L144.52,539.33 L144.82,539.26 L145.12,539.19 L145.43,539.12 L145.73,539.05 L146.04,538.99 L146.34,538.92 L146.64,538.85 L146.95,538.79 L147.25,538.72 L147.55,538.66 L147.86,538.59 L148.16,538.53 L148.46,538.47 L148.77,538.41 L149.07,538.35 L149.38,538.29 L149.68,538.23 L149.98,538.17 L150.29,538.11 L150.59,538.05 L150.89,537.99 L151.20,537.94 L151.50,537.88 L151.80,537.82 L152.11,537.77 L152.41,537.71 L152.72,537.66 L153.02,537.61 L153.32,537.55 L153.63,537.50 L153.93,537.45 L154.23,537.40 L154.54,537.35 L154.84,537.30 L155.14,537.25 L155.45,537.20 L155.75,537.15 L156.06,537.10 L156.36,537.05 L156.66,537.00 L156.97,536.96 L157.27,536.91 L157.57,536.86 L157.88,536.82 L158.18,536.77 L158.48,536.73 L158.79,536.68 L159.09,536.64 L159.40,536.59 L159.70,536.55 L160.00,536.51 L160.31,536.46 L160.61,536.42 L160.91,536.38 L161.22,536.34 L161.52,536.30 L161.82,536.26 L162.13,536.22 L162.43,536.17 L162.74,536.14 L163.04,536.10 L163.34,536.06 L163.65,536.02 L163.95,535.98 L164.25,535.94 L164.56,535.90 L164.86,535.87 L165.16,535.83 L165.47,535.79 L165.77,535.76 L166.08,535.72 L166.38,535.69 L166.68,535.65 L166.99,535.61 L167.29,535.58 L167.59,535.55 L167.90,535.51 L168.20,535.48 L168.50,535.44 L168.81,535.41 L169.11,535.38 L169.42,535.34 L169.72,535.31 L170.02,535.28 L170.33,535.25 L170.63,535.22 L170.93,535.18 L171.24,535.15 L171.54,535.12 L171.84,535.09 L172.15,535.06 L172.45,535.03 L172.76,535.00 L173.06,534.97 L173.36,534.94 L173.67,534.91 L173.97,534.88 L174.27,534.86 L174.58,534.83 L174.88,534.80 L175.18,534.77 L175.49,534.74 L175.79,534.72 L176.10,534.69 L176.40,534.66 L176.70,534.63 L177.01,534.61 L177.31,534.58 L177.61,534.55 L177.92,534.53 L178.22,534.50 L178.52,534.48 L178.83,534.45 L179.13,534.43 L179.44,534.40 L179.74,534.38 L180.04,534.35 L180.35,534.33 L180.65,534.30 L180.95,534.28 L181.26,534.26 L181.56,534.23 L181.87,534.21 L183.38,534.09 L184.90,533.98 L186.42,533.87 L187.94,533.77 L189.46,533.67 L190.97,533.58 L192.49,533.48 L194.01,533.39 L195.53,533.31 L197.05,533.22 L198.57,533.14 L200.08,533.07 L201.60,532.99 L203.12,532.92 L204.64,532.85 L206.16,532.78 L207.67,532.71 L209.19,532.65 L210.71,532.59 L212.23,532.53 L213.75,532.47 L215.27,532.41 L216.78,532.36 L218.30,532.30 L219.82,532.25 L221.34,532.20 L222.86,532.15 L224.37,532.10 L225.89,532.06 L227.41,532.01 L228.93,531.97 L230.45,531.93 L231.97,531.88 L233.48,531.84 L235.00,531.80 L236.52,531.77 L238.04,531.73 L239.56,531.69 L241.07,531.66 L242.59,531.62 L244.11,531.59 L245.63,531.56 L247.15,531.53 L248.67,531.49 L250.18,531.46 L251.70,531.43 L253.22,531.41 L254.74,531.38 L256.26,531.35 L257.77,531.32 L259.29,531.30 L260.81,531.27 L262.33,531.25 L263.85,531.22 L265.37,531.20 L266.88,531.17 L268.40,531.15 L269.92,531.13 L271.44,531.11 L272.96,531.09 L274.48,531.06 L275.99,531.04 L277.51,531.02 L279.03,531.00 L280.55,530.99 L282.07,530.97 L283.58,530.95 L285.10,530.93 L286.62,530.91 L288.14,530.90 L289.66,530.88 L291.18,530.86 L292.69,530.85 L294.21,530.83 L295.73,530.81 L297.25,530.80 L298.77,530.78 L300.28,530.77 L301.80,530.75 L303.32,530.74 L304.84,530.73 L306.36,530.71 L307.88,530.70 L309.39,530.69 L310.91,530.67 L312.43,530.66 L313.95,530.65 L315.47,530.64 L316.98,530.62 L318.50,530.61 L320.02,530.60 L321.54,530.59 L323.06,530.58 L324.58,530.57 L326.09,530.56 L327.61,530.55 L329.13,530.53 L330.65,530.52 L332.17,530.51 L333.69,530.50 L335.20,530.49 L336.72,530.49 L338.24,530.48 L339.76,530.47 L341.28,530.46 L342.79,530.45 L344.31,530.44 L345.83,530.43 L347.35,530.42 L348.87,530.41 L350.39,530.41 L351.90,530.40 L353.42,530.39 L354.94,530.38 L356.46,530.37 L357.98,530.37 L359.49,530.36 L361.01,530.35 L362.53,530.34 L364.05,530.34 L365.57,530.33 L367.09,530.32 L368.60,530.32 L370.12,530.31 L371.64,530.30 L373.16,530.30 L374.68,530.29 L376.19,530.28 L377.71,530.28 L379.23,530.27 L380.75,530.27 L382.27,530.26 L383.79,530.25 L385.30,530.25 L386.82,530.24 L388.34,530.24 L389.86,530.23 L391.38,530.22 L392.89,530.22 L394.41,530.21 L395.93,530.21 L397.45,530.20 L398.97,530.20 L400.49,530.19 L402.00,530.19 L403.52,530.18 L405.04,530.18 L406.56,530.17 L408.08,530.17 L409.59,530.16 L411.11,530.16 L412.63,530.16 L414.15,530.15 L415.67,530.15 L417.19,530.14 L418.70,530.14 L420.22,530.13 L421.74,530.13 L423.26,530.13 L424.78,530.12 L426.30,530.12 L427.81,530.11 L429.33,530.11 L430.85,530.11 L432.37,530.10 L433.89,530.10 L435.40,530.09 L436.92,530.09 L438.44,530.09 L439.96,530.08 L441.48,530.08 L443.00,530.08 L444.51,530.07 L446.03,530.07 L447.55,530.07 L449.07,530.06 L450.59,530.06 L452.10,530.06 L453.62,530.05 L455.14,530.05 L456.66,530.05 L458.18,530.04 L459.70,530.04 L461.21,530.04 L462.73,530.03" stroke="#808000" stroke-dasharray="3.4 2.1"/>
</g>
<g opacity="0.999">
<text x="68.70" y="279.80" font-size="18.70" text-anchor="middle">0</text>
<text x="144.50" y="279.80" font-size="18.70" text-anchor="middle">1</text>
<text x="220.30" y="279.80" font-size="18.70" text-anchor="middle">2</text>
<text x="296.10" y="279.80" font-size="18.70" text-anchor="middle">3</text>
<text x="371.90" y="279.80" font-size="18.70" text-anchor="middle">4</text>
<text x="447.70" y="279.80" font-size="18.70" text-anchor="middle">5</text>
<text x="57.60" y="213.30" font-size="18.70" text-anchor="end">0.2</text>
<text x="57.60" y="164.90" font-size="18.70" text-anchor="end">0.4</text>
<text x="57.60" y="116.50" font-size="18.70" text-anchor="end">0.6</text>
<text x="57.60" y="68.10" font-size="18.70" text-anchor="end">0.8</text>
<text x="57.60" y="19.70" font-size="18.70" text-anchor="end">1.0</text>
<text x="68.20" y="651.50" font-size="18.70" text-anchor="middle">0</text>
<text x="144.11" y="651.50" font-size="18.70" text-anchor="middle">1</text>
<text x="220.02" y="651.50" font-size="18.70" text-anchor="middle">2</text>
<text x="295.93" y="651.50" font-size="18.70" text-anchor="middle">3</text>
<text x="371.84" y="651.50" font-size="18.70" text-anchor="middle">4</text>
<text x="447.75" y="651.50" font-size="18.70" text-anchor="middle">5</text>
<text x="60.50" y="590.62" font-size="18.70" text-anchor="end">0.2</text>
<text x="60.50" y="543.74" font-size="18.70" text-anchor="end">0.4</text>
<text x="60.50" y="496.86" font-size="18.70" text-anchor="end">0.6</text>
<text x="60.50" y="449.98" font-size="18.70" text-anchor="end">0.8</text>
<text x="60.50" y="403.10" font-size="18.70" text-anchor="end">1.0</text>
<text transform="translate(22.7,132.9) rotate(-90)" font-size="18.7" text-anchor="middle" textLength="57.4" lengthAdjust="spacingAndGlyphs">Fidelity</text>
<text transform="translate(22.3,506.4) rotate(-90)" font-size="18.7" text-anchor="middle" textLength="76.6" lengthAdjust="spacingAndGlyphs">Efficiency</text>
<text x="259.80" y="297.30" font-size="21.40" text-anchor="middle" letter-spacing="0.4">g/&#954;</text>
<text x="257.90" y="336.90" font-size="20.80" text-anchor="middle" letter-spacing="0.15">(a)</text>
<text x="259.80" y="672.00" font-size="21.40" text-anchor="middle" letter-spacing="0.4">g/&#954;</text>
<text x="259.50" y="711.90" font-size="21.00" text-anchor="middle" letter-spacing="0.15">(b)</text>
<g fill="none" stroke-width="1.6">
<path d="M301.8,91.9 H339.2" stroke="#0000ff"/>
<path d="M301.8,120.9 H339.2" stroke="#ff0000" stroke-dasharray="6.3 4.8"/>
<path d="M301.8,150.4 H339.2" stroke="#808000" stroke-dasharray="7.1 2.5 2.1 2.55"/>
</g>
<text x="343.20" y="98.10" font-size="17.80" text-anchor="start">F</text>
<text x="351.50" y="88.80" font-size="9.80" text-anchor="start">O</text>
<text x="351.80" y="104.10" font-size="9.60" text-anchor="start">d</text>
<text x="362.20" y="98.10" font-size="17.80" text-anchor="start">=</text>
<text x="376.30" y="98.10" font-size="17.80" text-anchor="start">1</text>
<text x="343.20" y="126.80" font-size="17.80" text-anchor="start">F</text>
<text x="351.50" y="117.50" font-size="9.80" text-anchor="start">E</text>
<text x="351.80" y="132.80" font-size="9.60" text-anchor="start">d</text>
<text x="358.60" y="126.80" font-size="17.80" text-anchor="start">,</text>
<text x="367.60" y="126.80" font-size="17.62" text-anchor="start">&#954;</text>
<text x="375.50" y="133.50" font-size="12.60" text-anchor="start">s</text>
<text x="379.70" y="126.80" font-size="17.80" text-anchor="start">=</text>
<text x="392.20" y="126.80" font-size="17.10" text-anchor="start">0</text>
<text x="343.20" y="156.20" font-size="17.80" text-anchor="start">F</text>
<text x="351.50" y="146.90" font-size="9.80" text-anchor="start">E</text>
<text x="351.80" y="162.20" font-size="9.60" text-anchor="start">d</text>
<text x="358.60" y="156.20" font-size="17.80" text-anchor="start">,</text>
<text x="367.60" y="156.20" font-size="17.62" text-anchor="start">&#954;</text>
<text x="375.50" y="162.90" font-size="12.60" text-anchor="start">s</text>
<text x="379.70" y="156.20" font-size="17.80" text-anchor="start">=</text>
<text x="392.20" y="156.20" font-size="17.10" text-anchor="start">0.2&#954;</text>
<g fill="none" stroke-width="1.5">
<path d="M204.4,540.5 H233.5" stroke="#f9d94a" stroke-width="1.5"/>
<path d="M204.4,566.1 H233.5" stroke="#ff0000" stroke-dasharray="6.5 4.9"/>
<path d="M204.4,591.6 H229" stroke="#0000ff" stroke-dasharray="2.6 4.4"/>
<path d="M320.9,540.6 H347.6" stroke="#008080" stroke-dasharray="7.1 2.5 2.1 2.55"/>
<path d="M323.1,566.2 H351.2" stroke="#ff00ff" stroke-dasharray="5.8 2.3 2.2 2.3 2.2 2.3"/>
<path d="M323.1,591.8 H351.8" stroke="#808000" stroke-dasharray="3.4 2.1"/>
</g>
<text x="237.20" y="546.20" font-size="15.68" text-anchor="start">&#951;</text>
<text x="245.90" y="551.10" font-size="12.30" text-anchor="start">d</text>
<text x="255.40" y="546.20" font-size="14.00" text-anchor="start">,</text>
<text x="263.40" y="546.20" font-size="15.68" text-anchor="start">&#954;</text>
<text x="271.00" y="551.20" font-size="10.60" text-anchor="start">s</text>
<text x="275.10" y="546.20" font-size="14.00" text-anchor="start">=</text>
<text x="285.90" y="546.20" font-size="14.00" text-anchor="start">0</text>
<text x="237.20" y="571.80" font-size="15.68" text-anchor="start">&#951;</text>
<text x="245.50" y="564.20" font-size="7.60" text-anchor="start">E</text>
<text x="245.70" y="576.50" font-size="7.60" text-anchor="start">d</text>
<text x="253.20" y="571.80" font-size="14.00" text-anchor="start">,</text>
<text x="261.20" y="571.80" font-size="15.68" text-anchor="start">&#954;</text>
<text x="268.80" y="576.80" font-size="10.60" text-anchor="start">s</text>
<text x="272.90" y="571.80" font-size="14.00" text-anchor="start">=</text>
<text x="283.70" y="571.80" font-size="14.00" text-anchor="start">0</text>
<text x="237.20" y="597.40" font-size="15.68" text-anchor="start">&#951;</text>
<text x="245.50" y="589.80" font-size="7.60" text-anchor="start">O</text>
<text x="245.70" y="602.10" font-size="7.60" text-anchor="start">d</text>
<text x="253.20" y="597.40" font-size="14.00" text-anchor="start">,</text>
<text x="261.20" y="597.40" font-size="15.68" text-anchor="start">&#954;</text>
<text x="268.80" y="602.40" font-size="10.60" text-anchor="start">s</text>
<text x="272.90" y="597.40" font-size="14.00" text-anchor="start">=</text>
<text x="283.70" y="597.40" font-size="14.00" text-anchor="start">0</text>
<text x="357.40" y="546.20" font-size="15.68" text-anchor="start">&#951;</text>
<text x="366.10" y="551.10" font-size="12.30" text-anchor="start">d</text>
<text x="375.60" y="546.20" font-size="14.00" text-anchor="start">,</text>
<text x="383.60" y="546.20" font-size="15.68" text-anchor="start">&#954;</text>
<text x="391.20" y="551.20" font-size="10.60" text-anchor="start">s</text>
<text x="395.30" y="546.20" font-size="14.00" text-anchor="start">=</text>
<text x="406.20" y="546.20" font-size="16.40" text-anchor="start">0.2</text>
<text x="427.40" y="546.20" font-size="16.60" text-anchor="start">&#954;</text>
<text x="355.60" y="571.80" font-size="15.68" text-anchor="start">&#951;</text>
<text x="363.90" y="564.20" font-size="7.60" text-anchor="start">E</text>
<text x="364.10" y="576.50" font-size="7.60" text-anchor="start">d</text>
<text x="371.60" y="571.80" font-size="14.00" text-anchor="start">,</text>
<text x="379.60" y="571.80" font-size="15.68" text-anchor="start">&#954;</text>
<text x="387.20" y="576.80" font-size="10.60" text-anchor="start">s</text>
<text x="391.30" y="571.80" font-size="14.00" text-anchor="start">=</text>
<text x="402.20" y="571.80" font-size="16.40" text-anchor="start">0.2</text>
<text x="423.40" y="571.80" font-size="16.60" text-anchor="start">&#954;</text>
<text x="355.60" y="597.40" font-size="15.68" text-anchor="start">&#951;</text>
<text x="363.90" y="589.80" font-size="7.60" text-anchor="start">O</text>
<text x="364.10" y="602.10" font-size="7.60" text-anchor="start">d</text>
<text x="371.60" y="597.40" font-size="14.00" text-anchor="start">,</text>
<text x="379.60" y="597.40" font-size="15.68" text-anchor="start">&#954;</text>
<text x="387.20" y="602.40" font-size="10.60" text-anchor="start">s</text>
<text x="391.30" y="597.40" font-size="14.00" text-anchor="start">=</text>
<text x="402.20" y="597.40" font-size="16.40" text-anchor="start">0.2</text>
<text x="423.40" y="597.40" font-size="16.60" text-anchor="start">&#954;</text>
</g>
</svg></body></html>
